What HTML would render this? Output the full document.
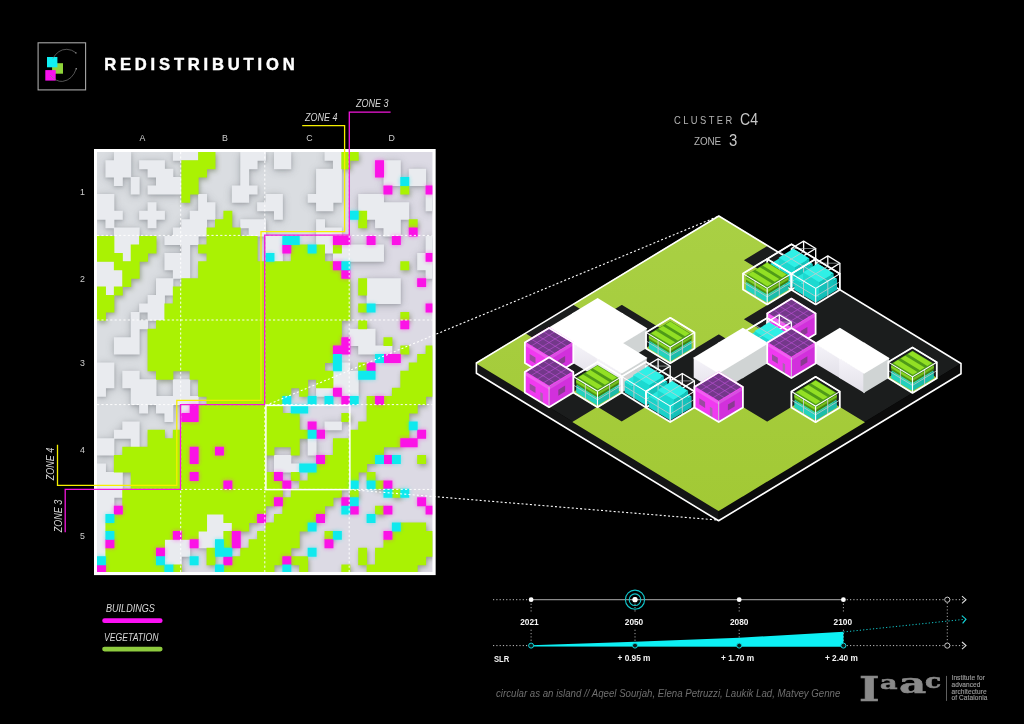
<!DOCTYPE html>
<html><head><meta charset="utf-8"><title>Redistribution</title>
<style>
html,body{margin:0;padding:0;background:#000;}
body{width:1024px;height:724px;position:relative;overflow:hidden;font-family:"Liberation Sans",sans-serif;color:#fff;}
.t{position:absolute;white-space:nowrap;line-height:1;}
.c{transform:translateX(-50%);}
.i{font-style:italic;}
</style></head><body>
<svg width="1024" height="724" viewBox="0 0 1024 724" style="position:absolute;left:0;top:0"><defs>
<filter id="sh" x="-5%" y="-5%" width="110%" height="110%"><feGaussianBlur stdDeviation="2.6"/></filter>
<filter id="sh3" x="-5%" y="-5%" width="110%" height="110%"><feGaussianBlur stdDeviation="4"/></filter>
<filter id="sh2" x="-5%" y="-5%" width="110%" height="110%"><feGaussianBlur stdDeviation="1.5"/></filter>
<filter id="gl" x="-5%" y="-5%" width="110%" height="110%"><feGaussianBlur stdDeviation="2.2"/></filter>
<clipPath id="mapclip"><rect x="97" y="152" width="335.4" height="419.9"/></clipPath>
<linearGradient id="gtop" x1="0" y1="0" x2="0" y2="1"><stop offset="0" stop-color="#a9d044"/><stop offset="1" stop-color="#a2c935"/></linearGradient>
<linearGradient id="wl" x1="0" y1="0" x2="0" y2="1"><stop offset="0" stop-color="#f6f4fa"/><stop offset="1" stop-color="#e2e0e8"/></linearGradient>
<linearGradient id="wr" x1="0" y1="0" x2="1" y2="0"><stop offset="0" stop-color="#b9bdbd"/><stop offset="1" stop-color="#d4d8d8"/></linearGradient>
</defs><rect x="94" y="149" width="341.65" height="426.1" fill="#ffffff"/><g clip-path="url(#mapclip)"><rect x="96.5" y="151.5" width="337" height="421" fill="#dadde1"/><path d="M349.3 151H434V573H96V489.4H180.5V404.6H264.7V235.2H349.3z" fill="#f0c8ff" opacity="0.13"/><path d="M198.12 151.80h17.35v8.93h-17.35zM341.35 151.80h17.35v8.93h-17.35zM181.27 160.23h34.20v8.93h-34.20zM341.35 160.23h8.93v8.93h-8.93zM181.27 168.65h25.78v8.93h-25.78zM181.27 177.08h17.35v8.93h-17.35zM181.27 185.50h17.35v8.93h-17.35zM400.32 185.50h8.93v8.93h-8.93zM181.27 193.93h8.93v8.93h-8.93zM223.40 210.78h8.93v8.93h-8.93zM358.19 210.78h8.93v8.93h-8.93zM214.97 219.20h17.35v8.93h-17.35zM358.19 219.20h8.93v8.93h-8.93zM408.75 219.20h8.93v8.93h-8.93zM206.55 227.62h34.20v8.93h-34.20zM97.02 236.05h17.35v8.93h-17.35zM139.14 236.05h17.35v8.93h-17.35zM206.55 236.05h51.05v8.93h-51.05zM97.02 244.48h17.35v8.93h-17.35zM130.72 244.48h25.78v8.93h-25.78zM198.12 244.48h59.48v8.93h-59.48zM290.80 244.48h17.35v8.93h-17.35zM316.07 244.48h8.93v8.93h-8.93zM332.92 244.48h8.93v8.93h-8.93zM97.02 252.90h25.78v8.93h-25.78zM130.72 252.90h17.35v8.93h-17.35zM206.55 252.90h51.05v8.93h-51.05zM290.80 252.90h34.20v8.93h-34.20zM113.87 261.33h25.78v8.93h-25.78zM198.12 261.33h135.30v8.93h-135.30zM400.32 261.33h8.93v8.93h-8.93zM122.30 269.75h17.35v8.93h-17.35zM198.12 269.75h143.73v8.93h-143.73zM122.30 278.18h8.93v8.93h-8.93zM181.27 278.18h169.00v8.93h-169.00zM358.19 278.18h8.93v8.93h-8.93zM97.02 286.60h8.93v8.93h-8.93zM113.87 286.60h8.93v8.93h-8.93zM172.84 286.60h177.43v8.93h-177.43zM358.19 286.60h8.93v8.93h-8.93zM97.02 295.03h17.35v8.93h-17.35zM172.84 295.03h177.43v8.93h-177.43zM97.02 303.45h17.35v8.93h-17.35zM164.42 303.45h185.85v8.93h-185.85zM358.19 303.45h8.93v8.93h-8.93zM97.02 311.88h8.93v8.93h-8.93zM164.42 311.88h185.85v8.93h-185.85zM400.32 311.88h8.93v8.93h-8.93zM156.00 320.30h185.85v8.93h-185.85zM358.19 320.30h8.93v8.93h-8.93zM147.57 328.73h194.28v8.93h-194.28zM147.57 337.15h194.28v8.93h-194.28zM383.47 337.15h8.93v8.93h-8.93zM147.57 345.58h185.85v8.93h-185.85zM400.32 345.58h8.93v8.93h-8.93zM425.60 345.58h8.93v8.93h-8.93zM147.57 354.00h185.85v8.93h-185.85zM417.17 354.00h17.35v8.93h-17.35zM147.57 362.43h177.43v8.93h-177.43zM358.19 362.43h8.93v8.93h-8.93zM408.75 362.43h25.78v8.93h-25.78zM156.00 370.85h17.35v8.93h-17.35zM189.69 370.85h143.73v8.93h-143.73zM400.32 370.85h34.20v8.93h-34.20zM198.12 379.28h110.03v8.93h-110.03zM316.07 379.28h17.35v8.93h-17.35zM400.32 379.28h34.20v8.93h-34.20zM198.12 387.70h93.18v8.93h-93.18zM299.22 387.70h8.93v8.93h-8.93zM391.89 387.70h42.62v8.93h-42.62zM206.55 396.12h76.33v8.93h-76.33zM366.62 396.12h8.93v8.93h-8.93zM383.47 396.12h42.62v8.93h-42.62zM198.12 404.55h84.75v8.93h-84.75zM366.62 404.55h51.05v8.93h-51.05zM198.12 412.98h101.60v8.93h-101.60zM341.35 412.98h8.93v8.93h-8.93zM366.62 412.98h42.62v8.93h-42.62zM181.27 421.40h118.45v8.93h-118.45zM358.19 421.40h51.05v8.93h-51.05zM147.57 429.83h17.35v8.93h-17.35zM172.84 429.83h135.30v8.93h-135.30zM349.77 429.83h59.48v8.93h-59.48zM147.57 438.25h152.15v8.93h-152.15zM332.92 438.25h67.90v8.93h-67.90zM122.30 446.68h67.90v8.93h-67.90zM198.12 446.68h17.35v8.93h-17.35zM223.40 446.68h51.05v8.93h-51.05zM290.80 446.68h8.93v8.93h-8.93zM332.92 446.68h51.05v8.93h-51.05zM113.87 455.10h76.33v8.93h-76.33zM198.12 455.10h67.90v8.93h-67.90zM324.50 455.10h51.05v8.93h-51.05zM417.17 455.10h8.93v8.93h-8.93zM113.87 463.53h152.15v8.93h-152.15zM316.07 463.53h51.05v8.93h-51.05zM130.72 471.95h59.48v8.93h-59.48zM198.12 471.95h76.33v8.93h-76.33zM290.80 471.95h8.93v8.93h-8.93zM307.65 471.95h51.05v8.93h-51.05zM366.62 471.95h8.93v8.93h-8.93zM130.72 480.38h93.18v8.93h-93.18zM231.82 480.38h51.05v8.93h-51.05zM299.22 480.38h51.05v8.93h-51.05zM375.05 480.38h8.93v8.93h-8.93zM122.30 488.80h160.58v8.93h-160.58zM290.80 488.80h51.05v8.93h-51.05zM349.77 488.80h8.93v8.93h-8.93zM391.89 488.80h8.93v8.93h-8.93zM122.30 497.23h152.15v8.93h-152.15zM282.37 497.23h51.05v8.93h-51.05zM122.30 505.65h143.73v8.93h-143.73zM282.37 505.65h42.62v8.93h-42.62zM375.05 505.65h8.93v8.93h-8.93zM113.87 514.08h93.18v8.93h-93.18zM223.40 514.08h34.20v8.93h-34.20zM273.94 514.08h42.62v8.93h-42.62zM105.44 522.50h101.60v8.93h-101.60zM231.82 522.50h17.35v8.93h-17.35zM265.52 522.50h42.62v8.93h-42.62zM400.32 522.50h25.78v8.93h-25.78zM113.87 530.93h59.48v8.93h-59.48zM181.27 530.93h17.35v8.93h-17.35zM223.40 530.93h8.93v8.93h-8.93zM257.10 530.93h42.62v8.93h-42.62zM324.50 530.93h8.93v8.93h-8.93zM391.89 530.93h42.62v8.93h-42.62zM113.87 539.35h51.05v8.93h-51.05zM223.40 539.35h8.93v8.93h-8.93zM248.67 539.35h51.05v8.93h-51.05zM383.47 539.35h51.05v8.93h-51.05zM105.44 547.78h51.05v8.93h-51.05zM206.55 547.78h8.93v8.93h-8.93zM240.25 547.78h51.05v8.93h-51.05zM358.19 547.78h8.93v8.93h-8.93zM375.05 547.78h59.48v8.93h-59.48zM105.44 556.20h51.05v8.93h-51.05zM206.55 556.20h8.93v8.93h-8.93zM231.82 556.20h51.05v8.93h-51.05zM290.80 556.20h17.35v8.93h-17.35zM358.19 556.20h8.93v8.93h-8.93zM375.05 556.20h51.05v8.93h-51.05zM105.44 564.62h59.48v8.93h-59.48zM172.84 564.62h8.93v8.93h-8.93zM223.40 564.62h51.05v8.93h-51.05zM299.22 564.62h8.93v8.93h-8.93zM341.35 564.62h8.93v8.93h-8.93zM366.62 564.62h51.05v8.93h-51.05z" fill="#56663a" opacity="0.5" filter="url(#sh)" transform="translate(1.2,2.2)"/><path d="M113.87 151.80h17.35v8.93h-17.35zM172.84 151.80h25.78v8.93h-25.78zM240.25 151.80h25.78v8.93h-25.78zM273.94 151.80h17.35v8.93h-17.35zM324.50 151.80h17.35v8.93h-17.35zM105.44 160.23h25.78v8.93h-25.78zM139.14 160.23h25.78v8.93h-25.78zM240.25 160.23h17.35v8.93h-17.35zM273.94 160.23h17.35v8.93h-17.35zM332.92 160.23h8.93v8.93h-8.93zM383.47 160.23h17.35v8.93h-17.35zM105.44 168.65h25.78v8.93h-25.78zM147.57 168.65h25.78v8.93h-25.78zM240.25 168.65h8.93v8.93h-8.93zM316.07 168.65h25.78v8.93h-25.78zM383.47 168.65h17.35v8.93h-17.35zM408.75 168.65h17.35v8.93h-17.35zM113.87 177.08h8.93v8.93h-8.93zM130.72 177.08h8.93v8.93h-8.93zM156.00 177.08h25.78v8.93h-25.78zM240.25 177.08h8.93v8.93h-8.93zM316.07 177.08h25.78v8.93h-25.78zM383.47 177.08h17.35v8.93h-17.35zM408.75 177.08h17.35v8.93h-17.35zM130.72 185.50h8.93v8.93h-8.93zM147.57 185.50h34.20v8.93h-34.20zM231.82 185.50h25.78v8.93h-25.78zM316.07 185.50h25.78v8.93h-25.78zM97.02 193.93h17.35v8.93h-17.35zM198.12 193.93h8.93v8.93h-8.93zM231.82 193.93h17.35v8.93h-17.35zM265.52 193.93h17.35v8.93h-17.35zM307.65 193.93h34.20v8.93h-34.20zM358.19 193.93h25.78v8.93h-25.78zM425.60 193.93h8.93v8.93h-8.93zM97.02 202.35h17.35v8.93h-17.35zM147.57 202.35h8.93v8.93h-8.93zM198.12 202.35h17.35v8.93h-17.35zM257.10 202.35h25.78v8.93h-25.78zM316.07 202.35h17.35v8.93h-17.35zM358.19 202.35h51.05v8.93h-51.05zM425.60 202.35h8.93v8.93h-8.93zM97.02 210.78h25.78v8.93h-25.78zM139.14 210.78h25.78v8.93h-25.78zM189.69 210.78h25.78v8.93h-25.78zM273.94 210.78h8.93v8.93h-8.93zM366.62 210.78h42.62v8.93h-42.62zM105.44 219.20h8.93v8.93h-8.93zM147.57 219.20h8.93v8.93h-8.93zM181.27 219.20h25.78v8.93h-25.78zM240.25 219.20h25.78v8.93h-25.78zM316.07 219.20h8.93v8.93h-8.93zM375.05 219.20h25.78v8.93h-25.78zM113.87 227.62h25.78v8.93h-25.78zM172.84 227.62h34.20v8.93h-34.20zM248.67 227.62h17.35v8.93h-17.35zM316.07 227.62h25.78v8.93h-25.78zM383.47 227.62h17.35v8.93h-17.35zM113.87 236.05h25.78v8.93h-25.78zM164.42 236.05h34.20v8.93h-34.20zM265.52 236.05h17.35v8.93h-17.35zM316.07 236.05h17.35v8.93h-17.35zM425.60 236.05h8.93v8.93h-8.93zM113.87 244.48h17.35v8.93h-17.35zM181.27 244.48h8.93v8.93h-8.93zM265.52 244.48h17.35v8.93h-17.35zM324.50 244.48h8.93v8.93h-8.93zM341.35 244.48h42.62v8.93h-42.62zM425.60 244.48h8.93v8.93h-8.93zM122.30 252.90h8.93v8.93h-8.93zM164.42 252.90h25.78v8.93h-25.78zM273.94 252.90h8.93v8.93h-8.93zM332.92 252.90h51.05v8.93h-51.05zM417.17 252.90h8.93v8.93h-8.93zM97.02 261.33h17.35v8.93h-17.35zM164.42 261.33h25.78v8.93h-25.78zM417.17 261.33h17.35v8.93h-17.35zM97.02 269.75h25.78v8.93h-25.78zM172.84 269.75h17.35v8.93h-17.35zM425.60 269.75h8.93v8.93h-8.93zM97.02 278.18h25.78v8.93h-25.78zM156.00 278.18h17.35v8.93h-17.35zM366.62 278.18h34.20v8.93h-34.20zM105.44 286.60h8.93v8.93h-8.93zM156.00 286.60h17.35v8.93h-17.35zM366.62 286.60h34.20v8.93h-34.20zM147.57 295.03h17.35v8.93h-17.35zM366.62 295.03h34.20v8.93h-34.20zM139.14 303.45h25.78v8.93h-25.78zM130.72 311.88h8.93v8.93h-8.93zM147.57 311.88h17.35v8.93h-17.35zM130.72 320.30h17.35v8.93h-17.35zM130.72 328.73h8.93v8.93h-8.93zM349.77 328.73h25.78v8.93h-25.78zM113.87 337.15h25.78v8.93h-25.78zM349.77 337.15h25.78v8.93h-25.78zM113.87 345.58h25.78v8.93h-25.78zM358.19 345.58h34.20v8.93h-34.20zM97.02 362.43h17.35v8.93h-17.35zM341.35 362.43h8.93v8.93h-8.93zM97.02 370.85h17.35v8.93h-17.35zM122.30 370.85h17.35v8.93h-17.35zM332.92 370.85h25.78v8.93h-25.78zM97.02 379.28h17.35v8.93h-17.35zM122.30 379.28h34.20v8.93h-34.20zM172.84 379.28h17.35v8.93h-17.35zM332.92 379.28h25.78v8.93h-25.78zM97.02 387.70h8.93v8.93h-8.93zM130.72 387.70h25.78v8.93h-25.78zM172.84 387.70h17.35v8.93h-17.35zM316.07 387.70h17.35v8.93h-17.35zM341.35 387.70h17.35v8.93h-17.35zM130.72 396.12h67.90v8.93h-67.90zM139.14 404.55h8.93v8.93h-8.93zM156.00 404.55h17.35v8.93h-17.35zM181.27 404.55h8.93v8.93h-8.93zM164.42 412.98h8.93v8.93h-8.93zM122.30 421.40h17.35v8.93h-17.35zM324.50 421.40h17.35v8.93h-17.35zM113.87 429.83h25.78v8.93h-25.78zM97.02 438.25h17.35v8.93h-17.35zM130.72 438.25h8.93v8.93h-8.93zM307.65 438.25h8.93v8.93h-8.93zM97.02 446.68h17.35v8.93h-17.35zM307.65 446.68h8.93v8.93h-8.93zM273.94 455.10h17.35v8.93h-17.35zM97.02 463.53h8.93v8.93h-8.93zM273.94 463.53h25.78v8.93h-25.78zM97.02 471.95h25.78v8.93h-25.78zM97.02 480.38h25.78v8.93h-25.78zM97.02 488.80h25.78v8.93h-25.78zM97.02 497.23h17.35v8.93h-17.35zM97.02 505.65h17.35v8.93h-17.35zM97.02 514.08h8.93v8.93h-8.93zM206.55 514.08h17.35v8.93h-17.35zM97.02 522.50h8.93v8.93h-8.93zM206.55 522.50h25.78v8.93h-25.78zM97.02 530.93h8.93v8.93h-8.93zM198.12 530.93h25.78v8.93h-25.78zM97.02 539.35h8.93v8.93h-8.93zM164.42 539.35h25.78v8.93h-25.78zM198.12 539.35h17.35v8.93h-17.35zM97.02 547.78h8.93v8.93h-8.93zM164.42 547.78h25.78v8.93h-25.78zM164.42 556.20h17.35v8.93h-17.35z" fill="#6d7278" opacity="0.42" filter="url(#sh3)" transform="translate(0,1.6)"/><path d="M113.87 151.80h17.35v8.93h-17.35zM172.84 151.80h25.78v8.93h-25.78zM240.25 151.80h25.78v8.93h-25.78zM273.94 151.80h17.35v8.93h-17.35zM324.50 151.80h17.35v8.93h-17.35zM105.44 160.23h25.78v8.93h-25.78zM139.14 160.23h25.78v8.93h-25.78zM240.25 160.23h17.35v8.93h-17.35zM273.94 160.23h17.35v8.93h-17.35zM332.92 160.23h8.93v8.93h-8.93zM383.47 160.23h17.35v8.93h-17.35zM105.44 168.65h25.78v8.93h-25.78zM147.57 168.65h25.78v8.93h-25.78zM240.25 168.65h8.93v8.93h-8.93zM316.07 168.65h25.78v8.93h-25.78zM383.47 168.65h17.35v8.93h-17.35zM408.75 168.65h17.35v8.93h-17.35zM113.87 177.08h8.93v8.93h-8.93zM130.72 177.08h8.93v8.93h-8.93zM156.00 177.08h25.78v8.93h-25.78zM240.25 177.08h8.93v8.93h-8.93zM316.07 177.08h25.78v8.93h-25.78zM383.47 177.08h17.35v8.93h-17.35zM408.75 177.08h17.35v8.93h-17.35zM130.72 185.50h8.93v8.93h-8.93zM147.57 185.50h34.20v8.93h-34.20zM231.82 185.50h25.78v8.93h-25.78zM316.07 185.50h25.78v8.93h-25.78zM97.02 193.93h17.35v8.93h-17.35zM198.12 193.93h8.93v8.93h-8.93zM231.82 193.93h17.35v8.93h-17.35zM265.52 193.93h17.35v8.93h-17.35zM307.65 193.93h34.20v8.93h-34.20zM358.19 193.93h25.78v8.93h-25.78zM425.60 193.93h8.93v8.93h-8.93zM97.02 202.35h17.35v8.93h-17.35zM147.57 202.35h8.93v8.93h-8.93zM198.12 202.35h17.35v8.93h-17.35zM257.10 202.35h25.78v8.93h-25.78zM316.07 202.35h17.35v8.93h-17.35zM358.19 202.35h51.05v8.93h-51.05zM425.60 202.35h8.93v8.93h-8.93zM97.02 210.78h25.78v8.93h-25.78zM139.14 210.78h25.78v8.93h-25.78zM189.69 210.78h25.78v8.93h-25.78zM273.94 210.78h8.93v8.93h-8.93zM366.62 210.78h42.62v8.93h-42.62zM105.44 219.20h8.93v8.93h-8.93zM147.57 219.20h8.93v8.93h-8.93zM181.27 219.20h25.78v8.93h-25.78zM240.25 219.20h25.78v8.93h-25.78zM316.07 219.20h8.93v8.93h-8.93zM375.05 219.20h25.78v8.93h-25.78zM113.87 227.62h25.78v8.93h-25.78zM172.84 227.62h34.20v8.93h-34.20zM248.67 227.62h17.35v8.93h-17.35zM316.07 227.62h25.78v8.93h-25.78zM383.47 227.62h17.35v8.93h-17.35zM113.87 236.05h25.78v8.93h-25.78zM164.42 236.05h34.20v8.93h-34.20zM265.52 236.05h17.35v8.93h-17.35zM316.07 236.05h17.35v8.93h-17.35zM425.60 236.05h8.93v8.93h-8.93zM113.87 244.48h17.35v8.93h-17.35zM181.27 244.48h8.93v8.93h-8.93zM265.52 244.48h17.35v8.93h-17.35zM324.50 244.48h8.93v8.93h-8.93zM341.35 244.48h42.62v8.93h-42.62zM425.60 244.48h8.93v8.93h-8.93zM122.30 252.90h8.93v8.93h-8.93zM164.42 252.90h25.78v8.93h-25.78zM273.94 252.90h8.93v8.93h-8.93zM332.92 252.90h51.05v8.93h-51.05zM417.17 252.90h8.93v8.93h-8.93zM97.02 261.33h17.35v8.93h-17.35zM164.42 261.33h25.78v8.93h-25.78zM417.17 261.33h17.35v8.93h-17.35zM97.02 269.75h25.78v8.93h-25.78zM172.84 269.75h17.35v8.93h-17.35zM425.60 269.75h8.93v8.93h-8.93zM97.02 278.18h25.78v8.93h-25.78zM156.00 278.18h17.35v8.93h-17.35zM366.62 278.18h34.20v8.93h-34.20zM105.44 286.60h8.93v8.93h-8.93zM156.00 286.60h17.35v8.93h-17.35zM366.62 286.60h34.20v8.93h-34.20zM147.57 295.03h17.35v8.93h-17.35zM366.62 295.03h34.20v8.93h-34.20zM139.14 303.45h25.78v8.93h-25.78zM130.72 311.88h8.93v8.93h-8.93zM147.57 311.88h17.35v8.93h-17.35zM130.72 320.30h17.35v8.93h-17.35zM130.72 328.73h8.93v8.93h-8.93zM349.77 328.73h25.78v8.93h-25.78zM113.87 337.15h25.78v8.93h-25.78zM349.77 337.15h25.78v8.93h-25.78zM113.87 345.58h25.78v8.93h-25.78zM358.19 345.58h34.20v8.93h-34.20zM97.02 362.43h17.35v8.93h-17.35zM341.35 362.43h8.93v8.93h-8.93zM97.02 370.85h17.35v8.93h-17.35zM122.30 370.85h17.35v8.93h-17.35zM332.92 370.85h25.78v8.93h-25.78zM97.02 379.28h17.35v8.93h-17.35zM122.30 379.28h34.20v8.93h-34.20zM172.84 379.28h17.35v8.93h-17.35zM332.92 379.28h25.78v8.93h-25.78zM97.02 387.70h8.93v8.93h-8.93zM130.72 387.70h25.78v8.93h-25.78zM172.84 387.70h17.35v8.93h-17.35zM316.07 387.70h17.35v8.93h-17.35zM341.35 387.70h17.35v8.93h-17.35zM130.72 396.12h67.90v8.93h-67.90zM139.14 404.55h8.93v8.93h-8.93zM156.00 404.55h17.35v8.93h-17.35zM181.27 404.55h8.93v8.93h-8.93zM164.42 412.98h8.93v8.93h-8.93zM122.30 421.40h17.35v8.93h-17.35zM324.50 421.40h17.35v8.93h-17.35zM113.87 429.83h25.78v8.93h-25.78zM97.02 438.25h17.35v8.93h-17.35zM130.72 438.25h8.93v8.93h-8.93zM307.65 438.25h8.93v8.93h-8.93zM97.02 446.68h17.35v8.93h-17.35zM307.65 446.68h8.93v8.93h-8.93zM273.94 455.10h17.35v8.93h-17.35zM97.02 463.53h8.93v8.93h-8.93zM273.94 463.53h25.78v8.93h-25.78zM97.02 471.95h25.78v8.93h-25.78zM97.02 480.38h25.78v8.93h-25.78zM97.02 488.80h25.78v8.93h-25.78zM97.02 497.23h17.35v8.93h-17.35zM97.02 505.65h17.35v8.93h-17.35zM97.02 514.08h8.93v8.93h-8.93zM206.55 514.08h17.35v8.93h-17.35zM97.02 522.50h8.93v8.93h-8.93zM206.55 522.50h25.78v8.93h-25.78zM97.02 530.93h8.93v8.93h-8.93zM198.12 530.93h25.78v8.93h-25.78zM97.02 539.35h8.93v8.93h-8.93zM164.42 539.35h25.78v8.93h-25.78zM198.12 539.35h17.35v8.93h-17.35zM97.02 547.78h8.93v8.93h-8.93zM164.42 547.78h25.78v8.93h-25.78zM164.42 556.20h17.35v8.93h-17.35z" fill="#6d7278" opacity="0.3" filter="url(#sh2)" transform="translate(0.3,1.2)"/><path d="M113.87 151.80h17.35v8.93h-17.35zM172.84 151.80h25.78v8.93h-25.78zM240.25 151.80h25.78v8.93h-25.78zM273.94 151.80h17.35v8.93h-17.35zM324.50 151.80h17.35v8.93h-17.35zM105.44 160.23h25.78v8.93h-25.78zM139.14 160.23h25.78v8.93h-25.78zM240.25 160.23h17.35v8.93h-17.35zM273.94 160.23h17.35v8.93h-17.35zM332.92 160.23h8.93v8.93h-8.93zM383.47 160.23h17.35v8.93h-17.35zM105.44 168.65h25.78v8.93h-25.78zM147.57 168.65h25.78v8.93h-25.78zM240.25 168.65h8.93v8.93h-8.93zM316.07 168.65h25.78v8.93h-25.78zM383.47 168.65h17.35v8.93h-17.35zM408.75 168.65h17.35v8.93h-17.35zM113.87 177.08h8.93v8.93h-8.93zM130.72 177.08h8.93v8.93h-8.93zM156.00 177.08h25.78v8.93h-25.78zM240.25 177.08h8.93v8.93h-8.93zM316.07 177.08h25.78v8.93h-25.78zM383.47 177.08h17.35v8.93h-17.35zM408.75 177.08h17.35v8.93h-17.35zM130.72 185.50h8.93v8.93h-8.93zM147.57 185.50h34.20v8.93h-34.20zM231.82 185.50h25.78v8.93h-25.78zM316.07 185.50h25.78v8.93h-25.78zM97.02 193.93h17.35v8.93h-17.35zM198.12 193.93h8.93v8.93h-8.93zM231.82 193.93h17.35v8.93h-17.35zM265.52 193.93h17.35v8.93h-17.35zM307.65 193.93h34.20v8.93h-34.20zM358.19 193.93h25.78v8.93h-25.78zM425.60 193.93h8.93v8.93h-8.93zM97.02 202.35h17.35v8.93h-17.35zM147.57 202.35h8.93v8.93h-8.93zM198.12 202.35h17.35v8.93h-17.35zM257.10 202.35h25.78v8.93h-25.78zM316.07 202.35h17.35v8.93h-17.35zM358.19 202.35h51.05v8.93h-51.05zM425.60 202.35h8.93v8.93h-8.93zM97.02 210.78h25.78v8.93h-25.78zM139.14 210.78h25.78v8.93h-25.78zM189.69 210.78h25.78v8.93h-25.78zM273.94 210.78h8.93v8.93h-8.93zM366.62 210.78h42.62v8.93h-42.62zM105.44 219.20h8.93v8.93h-8.93zM147.57 219.20h8.93v8.93h-8.93zM181.27 219.20h25.78v8.93h-25.78zM240.25 219.20h25.78v8.93h-25.78zM316.07 219.20h8.93v8.93h-8.93zM375.05 219.20h25.78v8.93h-25.78zM113.87 227.62h25.78v8.93h-25.78zM172.84 227.62h34.20v8.93h-34.20zM248.67 227.62h17.35v8.93h-17.35zM316.07 227.62h25.78v8.93h-25.78zM383.47 227.62h17.35v8.93h-17.35zM113.87 236.05h25.78v8.93h-25.78zM164.42 236.05h34.20v8.93h-34.20zM265.52 236.05h17.35v8.93h-17.35zM316.07 236.05h17.35v8.93h-17.35zM425.60 236.05h8.93v8.93h-8.93zM113.87 244.48h17.35v8.93h-17.35zM181.27 244.48h8.93v8.93h-8.93zM265.52 244.48h17.35v8.93h-17.35zM324.50 244.48h8.93v8.93h-8.93zM341.35 244.48h42.62v8.93h-42.62zM425.60 244.48h8.93v8.93h-8.93zM122.30 252.90h8.93v8.93h-8.93zM164.42 252.90h25.78v8.93h-25.78zM273.94 252.90h8.93v8.93h-8.93zM332.92 252.90h51.05v8.93h-51.05zM417.17 252.90h8.93v8.93h-8.93zM97.02 261.33h17.35v8.93h-17.35zM164.42 261.33h25.78v8.93h-25.78zM417.17 261.33h17.35v8.93h-17.35zM97.02 269.75h25.78v8.93h-25.78zM172.84 269.75h17.35v8.93h-17.35zM425.60 269.75h8.93v8.93h-8.93zM97.02 278.18h25.78v8.93h-25.78zM156.00 278.18h17.35v8.93h-17.35zM366.62 278.18h34.20v8.93h-34.20zM105.44 286.60h8.93v8.93h-8.93zM156.00 286.60h17.35v8.93h-17.35zM366.62 286.60h34.20v8.93h-34.20zM147.57 295.03h17.35v8.93h-17.35zM366.62 295.03h34.20v8.93h-34.20zM139.14 303.45h25.78v8.93h-25.78zM130.72 311.88h8.93v8.93h-8.93zM147.57 311.88h17.35v8.93h-17.35zM130.72 320.30h17.35v8.93h-17.35zM130.72 328.73h8.93v8.93h-8.93zM349.77 328.73h25.78v8.93h-25.78zM113.87 337.15h25.78v8.93h-25.78zM349.77 337.15h25.78v8.93h-25.78zM113.87 345.58h25.78v8.93h-25.78zM358.19 345.58h34.20v8.93h-34.20zM97.02 362.43h17.35v8.93h-17.35zM341.35 362.43h8.93v8.93h-8.93zM97.02 370.85h17.35v8.93h-17.35zM122.30 370.85h17.35v8.93h-17.35zM332.92 370.85h25.78v8.93h-25.78zM97.02 379.28h17.35v8.93h-17.35zM122.30 379.28h34.20v8.93h-34.20zM172.84 379.28h17.35v8.93h-17.35zM332.92 379.28h25.78v8.93h-25.78zM97.02 387.70h8.93v8.93h-8.93zM130.72 387.70h25.78v8.93h-25.78zM172.84 387.70h17.35v8.93h-17.35zM316.07 387.70h17.35v8.93h-17.35zM341.35 387.70h17.35v8.93h-17.35zM130.72 396.12h67.90v8.93h-67.90zM139.14 404.55h8.93v8.93h-8.93zM156.00 404.55h17.35v8.93h-17.35zM181.27 404.55h8.93v8.93h-8.93zM164.42 412.98h8.93v8.93h-8.93zM122.30 421.40h17.35v8.93h-17.35zM324.50 421.40h17.35v8.93h-17.35zM113.87 429.83h25.78v8.93h-25.78zM97.02 438.25h17.35v8.93h-17.35zM130.72 438.25h8.93v8.93h-8.93zM307.65 438.25h8.93v8.93h-8.93zM97.02 446.68h17.35v8.93h-17.35zM307.65 446.68h8.93v8.93h-8.93zM273.94 455.10h17.35v8.93h-17.35zM97.02 463.53h8.93v8.93h-8.93zM273.94 463.53h25.78v8.93h-25.78zM97.02 471.95h25.78v8.93h-25.78zM97.02 480.38h25.78v8.93h-25.78zM97.02 488.80h25.78v8.93h-25.78zM97.02 497.23h17.35v8.93h-17.35zM97.02 505.65h17.35v8.93h-17.35zM97.02 514.08h8.93v8.93h-8.93zM206.55 514.08h17.35v8.93h-17.35zM97.02 522.50h8.93v8.93h-8.93zM206.55 522.50h25.78v8.93h-25.78zM97.02 530.93h8.93v8.93h-8.93zM198.12 530.93h25.78v8.93h-25.78zM97.02 539.35h8.93v8.93h-8.93zM164.42 539.35h25.78v8.93h-25.78zM198.12 539.35h17.35v8.93h-17.35zM97.02 547.78h8.93v8.93h-8.93zM164.42 547.78h25.78v8.93h-25.78zM164.42 556.20h17.35v8.93h-17.35z" fill="#e9ebef"/><path d="M198.12 151.80h17.35v8.93h-17.35zM341.35 151.80h17.35v8.93h-17.35zM181.27 160.23h34.20v8.93h-34.20zM341.35 160.23h8.93v8.93h-8.93zM181.27 168.65h25.78v8.93h-25.78zM181.27 177.08h17.35v8.93h-17.35zM181.27 185.50h17.35v8.93h-17.35zM400.32 185.50h8.93v8.93h-8.93zM181.27 193.93h8.93v8.93h-8.93zM223.40 210.78h8.93v8.93h-8.93zM358.19 210.78h8.93v8.93h-8.93zM214.97 219.20h17.35v8.93h-17.35zM358.19 219.20h8.93v8.93h-8.93zM408.75 219.20h8.93v8.93h-8.93zM206.55 227.62h34.20v8.93h-34.20zM97.02 236.05h17.35v8.93h-17.35zM139.14 236.05h17.35v8.93h-17.35zM206.55 236.05h51.05v8.93h-51.05zM97.02 244.48h17.35v8.93h-17.35zM130.72 244.48h25.78v8.93h-25.78zM198.12 244.48h59.48v8.93h-59.48zM290.80 244.48h17.35v8.93h-17.35zM316.07 244.48h8.93v8.93h-8.93zM332.92 244.48h8.93v8.93h-8.93zM97.02 252.90h25.78v8.93h-25.78zM130.72 252.90h17.35v8.93h-17.35zM206.55 252.90h51.05v8.93h-51.05zM290.80 252.90h34.20v8.93h-34.20zM113.87 261.33h25.78v8.93h-25.78zM198.12 261.33h135.30v8.93h-135.30zM400.32 261.33h8.93v8.93h-8.93zM122.30 269.75h17.35v8.93h-17.35zM198.12 269.75h143.73v8.93h-143.73zM122.30 278.18h8.93v8.93h-8.93zM181.27 278.18h169.00v8.93h-169.00zM358.19 278.18h8.93v8.93h-8.93zM97.02 286.60h8.93v8.93h-8.93zM113.87 286.60h8.93v8.93h-8.93zM172.84 286.60h177.43v8.93h-177.43zM358.19 286.60h8.93v8.93h-8.93zM97.02 295.03h17.35v8.93h-17.35zM172.84 295.03h177.43v8.93h-177.43zM97.02 303.45h17.35v8.93h-17.35zM164.42 303.45h185.85v8.93h-185.85zM358.19 303.45h8.93v8.93h-8.93zM97.02 311.88h8.93v8.93h-8.93zM164.42 311.88h185.85v8.93h-185.85zM400.32 311.88h8.93v8.93h-8.93zM156.00 320.30h185.85v8.93h-185.85zM358.19 320.30h8.93v8.93h-8.93zM147.57 328.73h194.28v8.93h-194.28zM147.57 337.15h194.28v8.93h-194.28zM383.47 337.15h8.93v8.93h-8.93zM147.57 345.58h185.85v8.93h-185.85zM400.32 345.58h8.93v8.93h-8.93zM425.60 345.58h8.93v8.93h-8.93zM147.57 354.00h185.85v8.93h-185.85zM417.17 354.00h17.35v8.93h-17.35zM147.57 362.43h177.43v8.93h-177.43zM358.19 362.43h8.93v8.93h-8.93zM408.75 362.43h25.78v8.93h-25.78zM156.00 370.85h17.35v8.93h-17.35zM189.69 370.85h143.73v8.93h-143.73zM400.32 370.85h34.20v8.93h-34.20zM198.12 379.28h110.03v8.93h-110.03zM316.07 379.28h17.35v8.93h-17.35zM400.32 379.28h34.20v8.93h-34.20zM198.12 387.70h93.18v8.93h-93.18zM299.22 387.70h8.93v8.93h-8.93zM391.89 387.70h42.62v8.93h-42.62zM206.55 396.12h76.33v8.93h-76.33zM366.62 396.12h8.93v8.93h-8.93zM383.47 396.12h42.62v8.93h-42.62zM198.12 404.55h84.75v8.93h-84.75zM366.62 404.55h51.05v8.93h-51.05zM198.12 412.98h101.60v8.93h-101.60zM341.35 412.98h8.93v8.93h-8.93zM366.62 412.98h42.62v8.93h-42.62zM181.27 421.40h118.45v8.93h-118.45zM358.19 421.40h51.05v8.93h-51.05zM147.57 429.83h17.35v8.93h-17.35zM172.84 429.83h135.30v8.93h-135.30zM349.77 429.83h59.48v8.93h-59.48zM147.57 438.25h152.15v8.93h-152.15zM332.92 438.25h67.90v8.93h-67.90zM122.30 446.68h67.90v8.93h-67.90zM198.12 446.68h17.35v8.93h-17.35zM223.40 446.68h51.05v8.93h-51.05zM290.80 446.68h8.93v8.93h-8.93zM332.92 446.68h51.05v8.93h-51.05zM113.87 455.10h76.33v8.93h-76.33zM198.12 455.10h67.90v8.93h-67.90zM324.50 455.10h51.05v8.93h-51.05zM417.17 455.10h8.93v8.93h-8.93zM113.87 463.53h152.15v8.93h-152.15zM316.07 463.53h51.05v8.93h-51.05zM130.72 471.95h59.48v8.93h-59.48zM198.12 471.95h76.33v8.93h-76.33zM290.80 471.95h8.93v8.93h-8.93zM307.65 471.95h51.05v8.93h-51.05zM366.62 471.95h8.93v8.93h-8.93zM130.72 480.38h93.18v8.93h-93.18zM231.82 480.38h51.05v8.93h-51.05zM299.22 480.38h51.05v8.93h-51.05zM375.05 480.38h8.93v8.93h-8.93zM122.30 488.80h160.58v8.93h-160.58zM290.80 488.80h51.05v8.93h-51.05zM349.77 488.80h8.93v8.93h-8.93zM391.89 488.80h8.93v8.93h-8.93zM122.30 497.23h152.15v8.93h-152.15zM282.37 497.23h51.05v8.93h-51.05zM122.30 505.65h143.73v8.93h-143.73zM282.37 505.65h42.62v8.93h-42.62zM375.05 505.65h8.93v8.93h-8.93zM113.87 514.08h93.18v8.93h-93.18zM223.40 514.08h34.20v8.93h-34.20zM273.94 514.08h42.62v8.93h-42.62zM105.44 522.50h101.60v8.93h-101.60zM231.82 522.50h17.35v8.93h-17.35zM265.52 522.50h42.62v8.93h-42.62zM400.32 522.50h25.78v8.93h-25.78zM113.87 530.93h59.48v8.93h-59.48zM181.27 530.93h17.35v8.93h-17.35zM223.40 530.93h8.93v8.93h-8.93zM257.10 530.93h42.62v8.93h-42.62zM324.50 530.93h8.93v8.93h-8.93zM391.89 530.93h42.62v8.93h-42.62zM113.87 539.35h51.05v8.93h-51.05zM223.40 539.35h8.93v8.93h-8.93zM248.67 539.35h51.05v8.93h-51.05zM383.47 539.35h51.05v8.93h-51.05zM105.44 547.78h51.05v8.93h-51.05zM206.55 547.78h8.93v8.93h-8.93zM240.25 547.78h51.05v8.93h-51.05zM358.19 547.78h8.93v8.93h-8.93zM375.05 547.78h59.48v8.93h-59.48zM105.44 556.20h51.05v8.93h-51.05zM206.55 556.20h8.93v8.93h-8.93zM231.82 556.20h51.05v8.93h-51.05zM290.80 556.20h17.35v8.93h-17.35zM358.19 556.20h8.93v8.93h-8.93zM375.05 556.20h51.05v8.93h-51.05zM105.44 564.62h59.48v8.93h-59.48zM172.84 564.62h8.93v8.93h-8.93zM223.40 564.62h51.05v8.93h-51.05zM299.22 564.62h8.93v8.93h-8.93zM341.35 564.62h8.93v8.93h-8.93zM366.62 564.62h51.05v8.93h-51.05z" fill="#aaf203"/><path d="M375.05 160.23h8.93v8.93h-8.93zM375.05 168.65h8.93v8.93h-8.93zM383.47 185.50h8.93v8.93h-8.93zM425.60 185.50h8.93v8.93h-8.93zM408.75 227.62h8.93v8.93h-8.93zM332.92 236.05h17.35v8.93h-17.35zM366.62 236.05h8.93v8.93h-8.93zM391.89 236.05h8.93v8.93h-8.93zM282.37 244.48h8.93v8.93h-8.93zM425.60 252.90h8.93v8.93h-8.93zM332.92 261.33h8.93v8.93h-8.93zM341.35 269.75h8.93v8.93h-8.93zM417.17 278.18h8.93v8.93h-8.93zM425.60 303.45h8.93v8.93h-8.93zM400.32 320.30h8.93v8.93h-8.93zM341.35 337.15h8.93v8.93h-8.93zM332.92 345.58h17.35v8.93h-17.35zM383.47 354.00h17.35v8.93h-17.35zM366.62 362.43h8.93v8.93h-8.93zM332.92 387.70h8.93v8.93h-8.93zM341.35 396.12h8.93v8.93h-8.93zM375.05 396.12h8.93v8.93h-8.93zM189.69 404.55h8.93v8.93h-8.93zM181.27 412.98h17.35v8.93h-17.35zM307.65 421.40h8.93v8.93h-8.93zM316.07 429.83h8.93v8.93h-8.93zM417.17 429.83h8.93v8.93h-8.93zM400.32 438.25h17.35v8.93h-17.35zM189.69 446.68h8.93v8.93h-8.93zM214.97 446.68h8.93v8.93h-8.93zM189.69 455.10h8.93v8.93h-8.93zM316.07 455.10h8.93v8.93h-8.93zM383.47 455.10h8.93v8.93h-8.93zM189.69 471.95h8.93v8.93h-8.93zM273.94 471.95h8.93v8.93h-8.93zM223.40 480.38h8.93v8.93h-8.93zM282.37 480.38h8.93v8.93h-8.93zM383.47 480.38h8.93v8.93h-8.93zM273.94 497.23h8.93v8.93h-8.93zM341.35 497.23h8.93v8.93h-8.93zM417.17 497.23h8.93v8.93h-8.93zM113.87 505.65h8.93v8.93h-8.93zM349.77 505.65h8.93v8.93h-8.93zM383.47 505.65h8.93v8.93h-8.93zM425.60 505.65h8.93v8.93h-8.93zM257.10 514.08h8.93v8.93h-8.93zM316.07 514.08h8.93v8.93h-8.93zM172.84 530.93h8.93v8.93h-8.93zM231.82 530.93h8.93v8.93h-8.93zM383.47 530.93h8.93v8.93h-8.93zM105.44 539.35h8.93v8.93h-8.93zM189.69 539.35h8.93v8.93h-8.93zM231.82 539.35h8.93v8.93h-8.93zM324.50 539.35h8.93v8.93h-8.93zM156.00 547.78h8.93v8.93h-8.93zM223.40 556.20h8.93v8.93h-8.93zM282.37 556.20h8.93v8.93h-8.93zM97.02 564.62h8.93v8.93h-8.93z" fill="#ff20e8" opacity="0.55" filter="url(#gl)"/><path d="M400.32 177.08h8.93v8.93h-8.93zM349.77 210.78h8.93v8.93h-8.93zM282.37 236.05h17.35v8.93h-17.35zM307.65 244.48h8.93v8.93h-8.93zM265.52 252.90h8.93v8.93h-8.93zM341.35 261.33h8.93v8.93h-8.93zM366.62 303.45h8.93v8.93h-8.93zM332.92 354.00h8.93v8.93h-8.93zM375.05 354.00h8.93v8.93h-8.93zM332.92 362.43h8.93v8.93h-8.93zM358.19 370.85h17.35v8.93h-17.35zM282.37 396.12h8.93v8.93h-8.93zM307.65 396.12h8.93v8.93h-8.93zM324.50 396.12h8.93v8.93h-8.93zM349.77 396.12h8.93v8.93h-8.93zM290.80 404.55h17.35v8.93h-17.35zM408.75 421.40h8.93v8.93h-8.93zM307.65 429.83h8.93v8.93h-8.93zM375.05 455.10h8.93v8.93h-8.93zM391.89 455.10h8.93v8.93h-8.93zM299.22 463.53h17.35v8.93h-17.35zM349.77 480.38h8.93v8.93h-8.93zM366.62 480.38h8.93v8.93h-8.93zM383.47 488.80h8.93v8.93h-8.93zM400.32 488.80h8.93v8.93h-8.93zM349.77 497.23h8.93v8.93h-8.93zM341.35 505.65h8.93v8.93h-8.93zM105.44 514.08h8.93v8.93h-8.93zM366.62 514.08h8.93v8.93h-8.93zM307.65 522.50h8.93v8.93h-8.93zM391.89 522.50h8.93v8.93h-8.93zM105.44 530.93h8.93v8.93h-8.93zM332.92 530.93h8.93v8.93h-8.93zM214.97 539.35h8.93v8.93h-8.93zM214.97 547.78h17.35v8.93h-17.35zM307.65 547.78h8.93v8.93h-8.93zM97.02 556.20h8.93v8.93h-8.93zM156.00 556.20h8.93v8.93h-8.93zM189.69 556.20h8.93v8.93h-8.93zM164.42 564.62h8.93v8.93h-8.93zM214.97 564.62h8.93v8.93h-8.93zM282.37 564.62h8.93v8.93h-8.93z" fill="#10e8f0" opacity="0.45" filter="url(#gl)"/><path d="M375.05 160.23h8.93v8.93h-8.93zM375.05 168.65h8.93v8.93h-8.93zM383.47 185.50h8.93v8.93h-8.93zM425.60 185.50h8.93v8.93h-8.93zM408.75 227.62h8.93v8.93h-8.93zM332.92 236.05h17.35v8.93h-17.35zM366.62 236.05h8.93v8.93h-8.93zM391.89 236.05h8.93v8.93h-8.93zM282.37 244.48h8.93v8.93h-8.93zM425.60 252.90h8.93v8.93h-8.93zM332.92 261.33h8.93v8.93h-8.93zM341.35 269.75h8.93v8.93h-8.93zM417.17 278.18h8.93v8.93h-8.93zM425.60 303.45h8.93v8.93h-8.93zM400.32 320.30h8.93v8.93h-8.93zM341.35 337.15h8.93v8.93h-8.93zM332.92 345.58h17.35v8.93h-17.35zM383.47 354.00h17.35v8.93h-17.35zM366.62 362.43h8.93v8.93h-8.93zM332.92 387.70h8.93v8.93h-8.93zM341.35 396.12h8.93v8.93h-8.93zM375.05 396.12h8.93v8.93h-8.93zM189.69 404.55h8.93v8.93h-8.93zM181.27 412.98h17.35v8.93h-17.35zM307.65 421.40h8.93v8.93h-8.93zM316.07 429.83h8.93v8.93h-8.93zM417.17 429.83h8.93v8.93h-8.93zM400.32 438.25h17.35v8.93h-17.35zM189.69 446.68h8.93v8.93h-8.93zM214.97 446.68h8.93v8.93h-8.93zM189.69 455.10h8.93v8.93h-8.93zM316.07 455.10h8.93v8.93h-8.93zM383.47 455.10h8.93v8.93h-8.93zM189.69 471.95h8.93v8.93h-8.93zM273.94 471.95h8.93v8.93h-8.93zM223.40 480.38h8.93v8.93h-8.93zM282.37 480.38h8.93v8.93h-8.93zM383.47 480.38h8.93v8.93h-8.93zM273.94 497.23h8.93v8.93h-8.93zM341.35 497.23h8.93v8.93h-8.93zM417.17 497.23h8.93v8.93h-8.93zM113.87 505.65h8.93v8.93h-8.93zM349.77 505.65h8.93v8.93h-8.93zM383.47 505.65h8.93v8.93h-8.93zM425.60 505.65h8.93v8.93h-8.93zM257.10 514.08h8.93v8.93h-8.93zM316.07 514.08h8.93v8.93h-8.93zM172.84 530.93h8.93v8.93h-8.93zM231.82 530.93h8.93v8.93h-8.93zM383.47 530.93h8.93v8.93h-8.93zM105.44 539.35h8.93v8.93h-8.93zM189.69 539.35h8.93v8.93h-8.93zM231.82 539.35h8.93v8.93h-8.93zM324.50 539.35h8.93v8.93h-8.93zM156.00 547.78h8.93v8.93h-8.93zM223.40 556.20h8.93v8.93h-8.93zM282.37 556.20h8.93v8.93h-8.93zM97.02 564.62h8.93v8.93h-8.93z" fill="#fb12e6"/><path d="M400.32 177.08h8.93v8.93h-8.93zM349.77 210.78h8.93v8.93h-8.93zM282.37 236.05h17.35v8.93h-17.35zM307.65 244.48h8.93v8.93h-8.93zM265.52 252.90h8.93v8.93h-8.93zM341.35 261.33h8.93v8.93h-8.93zM366.62 303.45h8.93v8.93h-8.93zM332.92 354.00h8.93v8.93h-8.93zM375.05 354.00h8.93v8.93h-8.93zM332.92 362.43h8.93v8.93h-8.93zM358.19 370.85h17.35v8.93h-17.35zM282.37 396.12h8.93v8.93h-8.93zM307.65 396.12h8.93v8.93h-8.93zM324.50 396.12h8.93v8.93h-8.93zM349.77 396.12h8.93v8.93h-8.93zM290.80 404.55h17.35v8.93h-17.35zM408.75 421.40h8.93v8.93h-8.93zM307.65 429.83h8.93v8.93h-8.93zM375.05 455.10h8.93v8.93h-8.93zM391.89 455.10h8.93v8.93h-8.93zM299.22 463.53h17.35v8.93h-17.35zM349.77 480.38h8.93v8.93h-8.93zM366.62 480.38h8.93v8.93h-8.93zM383.47 488.80h8.93v8.93h-8.93zM400.32 488.80h8.93v8.93h-8.93zM349.77 497.23h8.93v8.93h-8.93zM341.35 505.65h8.93v8.93h-8.93zM105.44 514.08h8.93v8.93h-8.93zM366.62 514.08h8.93v8.93h-8.93zM307.65 522.50h8.93v8.93h-8.93zM391.89 522.50h8.93v8.93h-8.93zM105.44 530.93h8.93v8.93h-8.93zM332.92 530.93h8.93v8.93h-8.93zM214.97 539.35h8.93v8.93h-8.93zM214.97 547.78h17.35v8.93h-17.35zM307.65 547.78h8.93v8.93h-8.93zM97.02 556.20h8.93v8.93h-8.93zM156.00 556.20h8.93v8.93h-8.93zM189.69 556.20h8.93v8.93h-8.93zM164.42 564.62h8.93v8.93h-8.93zM214.97 564.62h8.93v8.93h-8.93zM282.37 564.62h8.93v8.93h-8.93z" fill="#0fe9ee"/></g><path d="M180.70 152V572M264.80 152V572M349.20 152V572M97 235.40H432.4M97 320.00H432.4M97 404.60H432.4M97 489.40H432.4" stroke="#ffffff" stroke-width="1" stroke-dasharray="2.2 2.2" fill="none" opacity="0.95"/><path d="M302.2 125.6H344.6V231.6H261V400.4H176.8V485.3H57.5V444.8" fill="none" stroke="#f6f000" stroke-width="1.3"/><path d="M390.6 112.2H349.3V235.2H264.7V404.6H180.5V489.4H65.2V532.3" fill="none" stroke="#f416dc" stroke-width="1.3"/><rect x="265.9" y="405.4" width="84" height="84.2" fill="none" stroke="#ffffff" stroke-width="1.5"/><path d="M265.9 405.4L718.8 216M349.9 489.6L717 520" stroke="#ffffff" stroke-width="1.1" stroke-dasharray="2 2.2" fill="none"/><polygon points="718.8,216.0 961.0,363.5 718.6,510.5 476.4,363.0" fill="#1b1d1d" /><polygon points="476.4,363.0 718.6,510.5 718.6,520.8 476.4,373.3" fill="#141515" /><polygon points="961.0,363.5 718.6,510.5 718.6,520.8 961.0,373.8" fill="#0b0b0b" /><path d="M718.8 215.4L768.2 245.5L743.0 260.8L693.6 230.7zM694.6 230.1L792.4 289.7L767.2 305.0L669.4 245.4zM912.5 362.9L937.7 378.2L912.5 393.5L887.3 378.1zM670.3 244.8L768.2 304.4L743.0 319.7L645.1 260.1zM646.1 259.5L768.1 333.9L742.9 349.1L620.9 274.8zM621.8 274.2L719.7 333.8L694.5 349.1L596.6 289.5zM815.6 392.2L865.0 422.3L839.8 437.6L790.4 407.5zM597.6 288.9L622.8 304.3L597.6 319.5L572.4 304.2zM670.3 333.2L695.4 348.5L670.2 363.8L645.1 348.4zM791.4 406.9L840.8 437.0L815.6 452.3L766.2 422.2zM742.9 406.9L816.5 451.7L791.3 467.0L717.7 422.1zM694.4 406.8L792.3 466.4L767.1 481.7L669.2 422.1zM524.9 333.0L550.1 348.4L524.9 363.6L499.7 348.3zM597.5 377.3L622.7 392.6L597.5 407.9L572.3 392.5zM646.0 406.8L768.0 481.1L742.8 496.4L620.8 422.0zM500.6 347.7L550.0 377.8L524.8 393.1L475.4 363.0zM597.5 406.7L743.8 495.8L718.6 511.1L572.3 422.0z" fill="url(#gtop)"/><polygon points="718.8,216.0 961.0,363.5 961.0,373.8 718.6,520.8 476.4,373.3 476.4,363.0" fill="none" stroke="#ffffff" stroke-width="1.6" stroke-linejoin="round" /><line x1="803.6" y1="251.6" x2="803.6" y2="241.1" stroke="#ffffff" stroke-width="1.3" /><line x1="815.7" y1="259.0" x2="815.7" y2="248.5" stroke="#ffffff" stroke-width="1.3" /><line x1="803.6" y1="266.4" x2="803.6" y2="255.9" stroke="#ffffff" stroke-width="1.3" /><line x1="791.4" y1="259.0" x2="791.4" y2="248.5" stroke="#ffffff" stroke-width="1.3" /><polygon points="803.6,241.1 815.7,248.5 803.6,255.9 791.4,248.5" fill="none" stroke="#ffffff" stroke-width="1.3" stroke-linejoin="round" /><line x1="791.4" y1="248.5" x2="815.7" y2="248.5" stroke="#c4cccc" stroke-width="0.6" /><polygon points="770.1,264.0 791.4,276.9 791.4,287.9 770.1,275.0" fill="#19d2c9" /><polygon points="812.8,264.0 791.4,276.9 791.4,287.9 812.8,275.0" fill="#12bdb6" /><polygon points="791.5,251.0 812.8,264.0 791.4,276.9 770.1,264.0" fill="#27e6dc" /><polygon points="778.9,257.5 794.8,267.2 794.8,282.9 778.9,273.2" fill="#1cd9d0" /><polygon points="809.4,258.4 794.8,267.2 794.8,282.9 809.4,274.1" fill="#14c2ba" /><polygon points="793.4,248.7 809.4,258.4 794.8,267.2 778.9,257.5" fill="#2ff0e6" /><line x1="779.3" y1="282.3" x2="779.3" y2="266.3" stroke="#c4cccc" stroke-width="0.9" /><line x1="803.6" y1="282.4" x2="803.6" y2="266.4" stroke="#c4cccc" stroke-width="0.9" /><line x1="803.6" y1="251.6" x2="779.3" y2="266.3" stroke="#c4cccc" stroke-width="0.8" /><line x1="779.3" y1="251.6" x2="803.6" y2="266.4" stroke="#c4cccc" stroke-width="0.8" /><line x1="767.2" y1="266.9" x2="791.4" y2="281.7" stroke="#c4cccc" stroke-width="0.8" /><line x1="815.7" y1="267.0" x2="791.4" y2="281.7" stroke="#c4cccc" stroke-width="0.8" /><line x1="791.4" y1="289.7" x2="791.4" y2="273.7" stroke="#ffffff" stroke-width="1.1" /><polygon points="791.5,244.2 815.7,259.0 791.4,273.7 767.2,258.9" fill="none" stroke="#ffffff" stroke-width="1.1" stroke-linejoin="round" /><polygon points="791.5,244.2 815.7,259.0 815.7,275.0 791.4,289.7 767.2,274.9 767.2,258.9" fill="none" stroke="#ffffff" stroke-width="1.8" stroke-linejoin="round" /><line x1="827.8" y1="266.4" x2="827.8" y2="255.9" stroke="#ffffff" stroke-width="1.3" /><line x1="839.9" y1="273.8" x2="839.9" y2="263.2" stroke="#ffffff" stroke-width="1.3" /><line x1="827.8" y1="281.1" x2="827.8" y2="270.6" stroke="#ffffff" stroke-width="1.3" /><line x1="815.7" y1="273.7" x2="815.7" y2="263.2" stroke="#ffffff" stroke-width="1.3" /><polygon points="827.8,255.9 839.9,263.2 827.8,270.6 815.7,263.2" fill="none" stroke="#ffffff" stroke-width="1.3" stroke-linejoin="round" /><line x1="815.7" y1="263.2" x2="839.9" y2="263.2" stroke="#c4cccc" stroke-width="0.6" /><polygon points="794.3,278.7 815.7,291.7 815.7,302.7 794.3,289.7" fill="#19d2c9" /><polygon points="837.0,278.7 815.7,291.7 815.7,302.7 837.0,289.7" fill="#12bdb6" /><polygon points="815.7,265.8 837.0,278.7 815.7,291.7 794.3,278.7" fill="#27e6dc" /><polygon points="803.1,272.2 819.1,282.0 819.1,297.7 803.1,287.9" fill="#1cd9d0" /><polygon points="833.6,273.2 819.1,282.0 819.1,297.7 833.6,288.9" fill="#14c2ba" /><polygon points="817.6,263.4 833.6,273.2 819.1,282.0 803.1,272.2" fill="#2ff0e6" /><line x1="803.5" y1="297.1" x2="803.5" y2="281.1" stroke="#c4cccc" stroke-width="0.9" /><line x1="827.8" y1="297.1" x2="827.8" y2="281.1" stroke="#c4cccc" stroke-width="0.9" /><line x1="827.8" y1="266.4" x2="803.5" y2="281.1" stroke="#c4cccc" stroke-width="0.8" /><line x1="803.6" y1="266.4" x2="827.8" y2="281.1" stroke="#c4cccc" stroke-width="0.8" /><line x1="791.4" y1="281.7" x2="815.7" y2="296.4" stroke="#c4cccc" stroke-width="0.8" /><line x1="839.9" y1="281.8" x2="815.7" y2="296.4" stroke="#c4cccc" stroke-width="0.8" /><line x1="815.7" y1="304.4" x2="815.7" y2="288.4" stroke="#ffffff" stroke-width="1.1" /><polygon points="815.7,259.0 839.9,273.8 815.7,288.4 791.4,273.7" fill="none" stroke="#ffffff" stroke-width="1.1" stroke-linejoin="round" /><polygon points="815.7,259.0 839.9,273.8 839.9,289.8 815.7,304.4 791.4,289.7 791.4,273.7" fill="none" stroke="#ffffff" stroke-width="1.8" stroke-linejoin="round" /><polygon points="745.9,282.7 767.2,295.6 767.2,302.6 745.9,289.7" fill="#24d2be" /><polygon points="788.5,282.7 767.2,295.6 767.2,302.6 788.5,289.7" fill="#1cbcaa" /><polygon points="767.2,269.7 788.5,282.7 767.2,295.6 745.9,282.7" fill="#2adcc8" /><polygon points="745.9,275.2 767.2,288.1 767.2,294.6 745.9,281.7" fill="#4c9416" /><polygon points="788.5,275.2 767.2,288.1 767.2,294.6 788.5,281.7" fill="#417f12" /><polygon points="767.2,262.2 788.5,275.2 767.2,288.1 745.9,275.2" fill="#4f9a18" /><polygon points="745.9,276.9 767.2,289.8 767.2,292.4 745.9,279.5" fill="#86d222" /><polygon points="788.5,276.9 767.2,289.8 767.2,292.4 788.5,279.5" fill="#74bd1c" /><polygon points="767.2,262.8 786.6,274.6 782.0,277.4 762.6,265.6" fill="#92e024" /><polygon points="759.9,267.2 779.3,279.0 774.7,281.8 755.3,270.0" fill="#92e024" /><polygon points="752.7,271.6 772.0,283.4 767.4,286.2 748.1,274.4" fill="#92e024" /><line x1="755.1" y1="297.0" x2="755.1" y2="281.0" stroke="#c4cccc" stroke-width="0.9" /><line x1="779.3" y1="297.1" x2="779.3" y2="281.1" stroke="#c4cccc" stroke-width="0.9" /><line x1="743.0" y1="282.1" x2="767.2" y2="296.9" stroke="#c4cccc" stroke-width="0.8" /><line x1="791.4" y1="282.2" x2="767.2" y2="296.9" stroke="#c4cccc" stroke-width="0.8" /><line x1="767.2" y1="304.4" x2="767.2" y2="288.4" stroke="#ffffff" stroke-width="1.1" /><polygon points="767.2,258.9 791.4,273.7 767.2,288.4 743.0,273.6" fill="none" stroke="#ffffff" stroke-width="1.1" stroke-linejoin="round" /><polygon points="767.2,258.9 791.4,273.7 791.4,289.7 767.2,304.4 743.0,289.6 743.0,273.6" fill="none" stroke="#ffffff" stroke-width="1.8" stroke-linejoin="round" /><polygon points="597.6,298.1 623.3,313.7 597.6,329.3 571.9,313.6" fill="#ffffff" /><polygon points="767.2,313.4 791.4,328.1 791.4,348.6 767.2,333.9" fill="#f03af0" /><polygon points="815.6,313.4 791.4,328.1 791.4,348.6 815.6,333.9" fill="#d230dc" /><polygon points="791.4,298.6 815.6,313.4 791.4,328.1 767.2,313.4" fill="#73388a" /><line x1="797.5" y1="302.3" x2="773.2" y2="317.0" stroke="#c050d8" stroke-width="0.6" /><line x1="785.4" y1="302.3" x2="809.6" y2="317.1" stroke="#c050d8" stroke-width="0.6" /><line x1="803.5" y1="306.0" x2="779.3" y2="320.7" stroke="#c050d8" stroke-width="0.6" /><line x1="779.3" y1="306.0" x2="803.5" y2="320.8" stroke="#c050d8" stroke-width="0.6" /><line x1="809.6" y1="309.7" x2="785.3" y2="324.4" stroke="#c050d8" stroke-width="0.6" /><line x1="773.2" y1="309.7" x2="797.5" y2="324.4" stroke="#c050d8" stroke-width="0.6" /><polygon points="791.4,298.6 815.6,313.4 791.4,328.1 767.2,313.4" fill="none" stroke="#f848f8" stroke-width="1.6" stroke-linejoin="round" /><polygon points="767.2,313.4 791.4,328.1 791.4,331.1 767.2,316.4" fill="#f060f0" /><polygon points="815.6,313.4 791.4,328.1 791.4,331.1 815.6,316.4" fill="#d850e0" /><polygon points="772.0,324.8 777.8,328.3 777.8,334.3 772.0,330.8" fill="#9a4aa0" /><polygon points="782.7,333.3 785.1,334.8 785.1,344.3 782.7,342.8" fill="#a868ac" /><polygon points="800.6,331.0 807.4,326.9 807.4,332.9 800.6,337.0" fill="#8a3a92" /><line x1="791.4" y1="348.6" x2="791.4" y2="328.1" stroke="#d8c8dc" stroke-width="1.0" /><polygon points="791.4,298.6 815.6,313.4 815.6,333.9 791.4,348.6 767.2,333.9 767.2,313.4" fill="none" stroke="#ffffff" stroke-width="1.8" stroke-linejoin="round" /><polygon points="646.7,328.0 621.1,343.6 621.1,363.6 646.7,348.0" fill="#d0d4d4" /><polygon points="621.8,312.8 647.5,328.5 621.8,344.0 596.1,328.4" fill="#ffffff" /><polygon points="548.4,327.9 574.0,343.5 574.0,363.5 548.4,347.9" fill="url(#wl)" /><polygon points="573.3,312.8 599.0,328.4 573.3,344.0 547.6,328.3" fill="#ffffff" /><line x1="779.3" y1="325.2" x2="779.3" y2="314.7" stroke="#ffffff" stroke-width="1.3" /><line x1="791.4" y1="332.6" x2="791.4" y2="322.1" stroke="#ffffff" stroke-width="1.3" /><line x1="779.3" y1="339.9" x2="779.3" y2="329.4" stroke="#ffffff" stroke-width="1.3" /><line x1="767.2" y1="332.6" x2="767.2" y2="322.1" stroke="#ffffff" stroke-width="1.3" /><polygon points="779.3,314.7 791.4,322.1 779.3,329.4 767.2,322.1" fill="none" stroke="#ffffff" stroke-width="1.3" stroke-linejoin="round" /><line x1="767.2" y1="322.1" x2="791.4" y2="322.1" stroke="#c4cccc" stroke-width="0.6" /><polygon points="745.8,337.6 767.2,350.5 767.2,361.5 745.8,348.6" fill="#19d2c9" /><polygon points="788.5,337.6 767.2,350.5 767.2,361.5 788.5,348.6" fill="#12bdb6" /><polygon points="767.2,324.6 788.5,337.6 767.2,350.5 745.8,337.6" fill="#27e6dc" /><polygon points="754.6,331.1 770.6,340.8 770.6,356.5 754.6,346.8" fill="#1cd9d0" /><polygon points="785.1,332.0 770.6,340.8 770.6,356.5 785.1,347.7" fill="#14c2ba" /><polygon points="769.1,322.3 785.1,332.0 770.6,340.8 754.6,331.1" fill="#2ff0e6" /><line x1="755.0" y1="355.9" x2="755.0" y2="339.9" stroke="#c4cccc" stroke-width="0.9" /><line x1="779.3" y1="355.9" x2="779.3" y2="339.9" stroke="#c4cccc" stroke-width="0.9" /><line x1="779.3" y1="325.2" x2="755.0" y2="339.9" stroke="#c4cccc" stroke-width="0.8" /><line x1="755.1" y1="325.2" x2="779.3" y2="339.9" stroke="#c4cccc" stroke-width="0.8" /><line x1="742.9" y1="340.6" x2="767.2" y2="355.3" stroke="#c4cccc" stroke-width="0.8" /><line x1="791.4" y1="340.6" x2="767.2" y2="355.3" stroke="#c4cccc" stroke-width="0.8" /><line x1="767.2" y1="363.3" x2="767.2" y2="347.3" stroke="#ffffff" stroke-width="1.1" /><polygon points="767.2,317.9 791.4,332.6 767.2,347.3 742.9,332.6" fill="none" stroke="#ffffff" stroke-width="1.1" stroke-linejoin="round" /><polygon points="767.2,317.9 791.4,332.6 791.4,348.6 767.2,363.3 742.9,348.6 742.9,332.6" fill="none" stroke="#ffffff" stroke-width="1.8" stroke-linejoin="round" /><polygon points="648.9,341.5 670.2,354.4 670.2,361.4 648.9,348.5" fill="#24d2be" /><polygon points="691.6,341.5 670.2,354.4 670.2,361.4 691.6,348.5" fill="#1cbcaa" /><polygon points="670.3,328.5 691.6,341.5 670.2,354.4 648.9,341.5" fill="#2adcc8" /><polygon points="648.9,334.0 670.2,346.9 670.2,353.4 648.9,340.5" fill="#4c9416" /><polygon points="691.6,334.0 670.2,346.9 670.2,353.4 691.6,340.5" fill="#417f12" /><polygon points="670.3,321.0 691.6,334.0 670.2,346.9 648.9,334.0" fill="#4f9a18" /><polygon points="648.9,335.7 670.2,348.6 670.2,351.2 648.9,338.3" fill="#86d222" /><polygon points="691.6,335.7 670.2,348.6 670.2,351.2 691.6,338.3" fill="#74bd1c" /><polygon points="670.3,321.6 689.6,333.4 685.0,336.2 665.7,324.4" fill="#92e024" /><polygon points="663.0,326.0 682.4,337.8 677.8,340.6 658.4,328.8" fill="#92e024" /><polygon points="655.7,330.4 675.1,342.2 670.5,345.0 651.1,333.2" fill="#92e024" /><line x1="658.1" y1="355.8" x2="658.1" y2="339.8" stroke="#c4cccc" stroke-width="0.9" /><line x1="682.4" y1="355.9" x2="682.4" y2="339.9" stroke="#c4cccc" stroke-width="0.9" /><line x1="646.0" y1="340.9" x2="670.2" y2="355.7" stroke="#c4cccc" stroke-width="0.8" /><line x1="694.5" y1="341.0" x2="670.2" y2="355.7" stroke="#c4cccc" stroke-width="0.8" /><line x1="670.2" y1="363.2" x2="670.2" y2="347.2" stroke="#ffffff" stroke-width="1.1" /><polygon points="670.3,317.8 694.5,332.5 670.2,347.2 646.0,332.4" fill="none" stroke="#ffffff" stroke-width="1.1" stroke-linejoin="round" /><polygon points="670.3,317.8 694.5,332.5 694.5,348.5 670.2,363.2 646.0,348.4 646.0,332.4" fill="none" stroke="#ffffff" stroke-width="1.8" stroke-linejoin="round" /><polygon points="814.9,342.9 840.6,358.5 840.6,378.5 814.9,362.9" fill="url(#wl)" /><polygon points="839.9,327.8 865.5,343.4 839.8,359.0 814.2,343.3" fill="#ffffff" /><polygon points="767.9,342.9 742.2,358.4 742.2,378.4 767.9,362.9" fill="#d0d4d4" /><polygon points="742.9,327.7 768.6,343.3 742.9,358.9 717.2,343.2" fill="#ffffff" /><polygon points="572.6,342.7 598.3,358.3 598.3,378.3 572.6,362.7" fill="url(#wl)" /><polygon points="597.6,327.5 623.2,343.2 597.5,358.7 571.9,343.1" fill="#ffffff" /><polygon points="767.2,342.8 791.4,357.6 791.4,378.1 767.2,363.3" fill="#f03af0" /><polygon points="815.6,342.9 791.4,357.6 791.4,378.1 815.6,363.4" fill="#d230dc" /><polygon points="791.4,328.1 815.6,342.9 791.4,357.6 767.2,342.8" fill="#73388a" /><line x1="797.5" y1="331.8" x2="773.2" y2="346.5" stroke="#c050d8" stroke-width="0.6" /><line x1="785.3" y1="331.8" x2="809.6" y2="346.5" stroke="#c050d8" stroke-width="0.6" /><line x1="803.5" y1="335.5" x2="779.3" y2="350.2" stroke="#c050d8" stroke-width="0.6" /><line x1="779.3" y1="335.4" x2="803.5" y2="350.2" stroke="#c050d8" stroke-width="0.6" /><line x1="809.6" y1="339.2" x2="785.3" y2="353.9" stroke="#c050d8" stroke-width="0.6" /><line x1="773.2" y1="339.1" x2="797.4" y2="353.9" stroke="#c050d8" stroke-width="0.6" /><polygon points="791.4,328.1 815.6,342.9 791.4,357.6 767.2,342.8" fill="none" stroke="#f848f8" stroke-width="1.6" stroke-linejoin="round" /><polygon points="767.2,342.8 791.4,357.6 791.4,360.6 767.2,345.8" fill="#f060f0" /><polygon points="815.6,342.9 791.4,357.6 791.4,360.6 815.6,345.9" fill="#d850e0" /><polygon points="772.0,354.2 777.8,357.8 777.8,363.8 772.0,360.2" fill="#9a4aa0" /><polygon points="782.7,362.7 785.1,364.2 785.1,373.7 782.7,372.2" fill="#a868ac" /><polygon points="800.6,360.5 807.4,356.3 807.4,362.3 800.6,366.5" fill="#8a3a92" /><line x1="791.4" y1="378.1" x2="791.4" y2="357.6" stroke="#d8c8dc" stroke-width="1.0" /><polygon points="791.4,328.1 815.6,342.9 815.6,363.4 791.4,378.1 767.2,363.3 767.2,342.8" fill="none" stroke="#ffffff" stroke-width="1.8" stroke-linejoin="round" /><polygon points="524.9,342.5 549.1,357.3 549.1,377.8 524.9,363.0" fill="#f03af0" /><polygon points="573.3,342.6 549.1,357.3 549.1,377.8 573.3,363.1" fill="#d230dc" /><polygon points="549.1,327.9 573.3,342.6 549.1,357.3 524.9,342.5" fill="#73388a" /><line x1="555.2" y1="331.5" x2="530.9" y2="346.2" stroke="#c050d8" stroke-width="0.6" /><line x1="543.0" y1="331.5" x2="567.3" y2="346.3" stroke="#c050d8" stroke-width="0.6" /><line x1="561.2" y1="335.2" x2="537.0" y2="349.9" stroke="#c050d8" stroke-width="0.6" /><line x1="537.0" y1="335.2" x2="561.2" y2="349.9" stroke="#c050d8" stroke-width="0.6" /><line x1="567.3" y1="338.9" x2="543.0" y2="353.6" stroke="#c050d8" stroke-width="0.6" /><line x1="530.9" y1="338.9" x2="555.1" y2="353.6" stroke="#c050d8" stroke-width="0.6" /><polygon points="549.1,327.9 573.3,342.6 549.1,357.3 524.9,342.5" fill="none" stroke="#f848f8" stroke-width="1.6" stroke-linejoin="round" /><polygon points="524.9,342.5 549.1,357.3 549.1,360.3 524.9,345.5" fill="#f060f0" /><polygon points="573.3,342.6 549.1,357.3 549.1,360.3 573.3,345.6" fill="#d850e0" /><polygon points="529.7,354.0 535.5,357.5 535.5,363.5 529.7,360.0" fill="#9a4aa0" /><polygon points="540.4,362.5 542.8,364.0 542.8,373.5 540.4,372.0" fill="#a868ac" /><polygon points="558.3,360.2 565.1,356.1 565.1,362.1 558.3,366.2" fill="#8a3a92" /><line x1="549.1" y1="377.8" x2="549.1" y2="357.3" stroke="#d8c8dc" stroke-width="1.0" /><polygon points="549.1,327.9 573.3,342.6 573.3,363.1 549.1,377.8 524.9,363.0 524.9,342.5" fill="none" stroke="#ffffff" stroke-width="1.8" stroke-linejoin="round" /><polygon points="839.1,357.7 864.8,373.3 864.8,393.3 839.1,377.7" fill="url(#wl)" /><polygon points="889.0,357.7 863.3,373.3 863.3,393.3 889.0,377.7" fill="#d0d4d4" /><polygon points="864.1,342.5 889.8,358.2 864.1,373.7 838.4,358.1" fill="#ffffff" /><polygon points="693.7,357.5 719.4,373.1 719.4,393.1 693.7,377.5" fill="url(#wl)" /><polygon points="743.6,357.6 718.0,373.1 718.0,393.1 743.6,377.6" fill="#d0d4d4" /><polygon points="718.7,342.4 744.4,358.0 718.7,373.6 693.0,357.9" fill="#ffffff" /><polygon points="596.8,357.4 622.5,373.0 622.5,393.0 596.8,377.4" fill="url(#wl)" /><polygon points="646.7,357.5 621.0,373.0 621.0,393.0 646.7,377.5" fill="#d0d4d4" /><polygon points="621.8,342.3 647.5,357.9 621.8,373.5 596.1,357.8" fill="#ffffff" /><polygon points="891.2,371.2 912.5,384.1 912.5,391.1 891.2,378.2" fill="#24d2be" /><polygon points="933.9,371.2 912.5,384.1 912.5,391.1 933.9,378.2" fill="#1cbcaa" /><polygon points="912.5,358.2 933.9,371.2 912.5,384.1 891.2,371.2" fill="#2adcc8" /><polygon points="891.2,363.7 912.5,376.6 912.5,383.1 891.2,370.2" fill="#4c9416" /><polygon points="933.9,363.7 912.5,376.6 912.5,383.1 933.9,370.2" fill="#417f12" /><polygon points="912.5,350.7 933.9,363.7 912.5,376.6 891.2,363.7" fill="#4f9a18" /><polygon points="891.2,365.4 912.5,378.3 912.5,380.9 891.2,368.0" fill="#86d222" /><polygon points="933.9,365.4 912.5,378.3 912.5,380.9 933.9,368.0" fill="#74bd1c" /><polygon points="912.5,351.3 931.9,363.1 927.3,365.9 907.9,354.1" fill="#92e024" /><polygon points="905.3,355.7 924.6,367.5 920.0,370.3 900.7,358.5" fill="#92e024" /><polygon points="898.0,360.1 917.4,371.9 912.8,374.7 893.4,362.9" fill="#92e024" /><line x1="900.4" y1="385.5" x2="900.4" y2="369.5" stroke="#c4cccc" stroke-width="0.9" /><line x1="924.6" y1="385.6" x2="924.6" y2="369.6" stroke="#c4cccc" stroke-width="0.9" /><line x1="888.3" y1="370.6" x2="912.5" y2="385.4" stroke="#c4cccc" stroke-width="0.8" /><line x1="936.8" y1="370.7" x2="912.5" y2="385.4" stroke="#c4cccc" stroke-width="0.8" /><line x1="912.5" y1="392.9" x2="912.5" y2="376.9" stroke="#ffffff" stroke-width="1.1" /><polygon points="912.5,347.4 936.8,362.2 912.5,376.9 888.3,362.1" fill="none" stroke="#ffffff" stroke-width="1.1" stroke-linejoin="round" /><polygon points="912.5,347.4 936.8,362.2 936.8,378.2 912.5,392.9 888.3,378.1 888.3,362.1" fill="none" stroke="#ffffff" stroke-width="1.8" stroke-linejoin="round" /><line x1="658.1" y1="369.3" x2="658.1" y2="358.8" stroke="#ffffff" stroke-width="1.3" /><line x1="670.2" y1="376.6" x2="670.2" y2="366.1" stroke="#ffffff" stroke-width="1.3" /><line x1="658.1" y1="384.0" x2="658.1" y2="373.5" stroke="#ffffff" stroke-width="1.3" /><line x1="646.0" y1="376.6" x2="646.0" y2="366.1" stroke="#ffffff" stroke-width="1.3" /><polygon points="658.1,358.8 670.2,366.1 658.1,373.5 646.0,366.1" fill="none" stroke="#ffffff" stroke-width="1.3" stroke-linejoin="round" /><line x1="646.0" y1="366.1" x2="670.2" y2="366.1" stroke="#c4cccc" stroke-width="0.6" /><polygon points="624.7,381.6 646.0,394.6 646.0,405.6 624.7,392.6" fill="#19d2c9" /><polygon points="667.3,381.6 646.0,394.6 646.0,405.6 667.3,392.6" fill="#12bdb6" /><polygon points="646.0,368.7 667.3,381.6 646.0,394.6 624.7,381.6" fill="#27e6dc" /><polygon points="633.4,375.1 649.4,384.9 649.4,400.6 633.4,390.8" fill="#1cd9d0" /><polygon points="663.9,376.1 649.4,384.9 649.4,400.6 663.9,391.8" fill="#14c2ba" /><polygon points="647.9,366.3 663.9,376.1 649.4,384.9 633.4,375.1" fill="#2ff0e6" /><line x1="633.9" y1="400.0" x2="633.9" y2="384.0" stroke="#c4cccc" stroke-width="0.9" /><line x1="658.1" y1="400.0" x2="658.1" y2="384.0" stroke="#c4cccc" stroke-width="0.9" /><line x1="658.1" y1="369.3" x2="633.9" y2="384.0" stroke="#c4cccc" stroke-width="0.8" /><line x1="633.9" y1="369.2" x2="658.1" y2="384.0" stroke="#c4cccc" stroke-width="0.8" /><line x1="621.8" y1="384.6" x2="646.0" y2="399.4" stroke="#c4cccc" stroke-width="0.8" /><line x1="670.2" y1="384.6" x2="646.0" y2="399.4" stroke="#c4cccc" stroke-width="0.8" /><line x1="646.0" y1="407.4" x2="646.0" y2="391.4" stroke="#ffffff" stroke-width="1.1" /><polygon points="646.0,361.9 670.2,376.6 646.0,391.4 621.8,376.6" fill="none" stroke="#ffffff" stroke-width="1.1" stroke-linejoin="round" /><polygon points="646.0,361.9 670.2,376.6 670.2,392.6 646.0,407.4 621.8,392.6 621.8,376.6" fill="none" stroke="#ffffff" stroke-width="1.8" stroke-linejoin="round" /><polygon points="576.2,385.6 597.5,398.5 597.5,405.5 576.2,392.6" fill="#24d2be" /><polygon points="618.9,385.6 597.5,398.5 597.5,405.5 618.9,392.6" fill="#1cbcaa" /><polygon points="597.5,372.6 618.9,385.6 597.5,398.5 576.2,385.6" fill="#2adcc8" /><polygon points="576.2,378.1 597.5,391.0 597.5,397.5 576.2,384.6" fill="#4c9416" /><polygon points="618.9,378.1 597.5,391.0 597.5,397.5 618.9,384.6" fill="#417f12" /><polygon points="597.5,365.1 618.9,378.1 597.5,391.0 576.2,378.1" fill="#4f9a18" /><polygon points="576.2,379.8 597.5,392.7 597.5,395.3 576.2,382.4" fill="#86d222" /><polygon points="618.9,379.8 597.5,392.7 597.5,395.3 618.9,382.4" fill="#74bd1c" /><polygon points="597.5,365.7 616.9,377.5 612.3,380.3 592.9,368.5" fill="#92e024" /><polygon points="590.3,370.1 609.6,381.9 605.0,384.7 585.7,372.9" fill="#92e024" /><polygon points="583.0,374.5 602.4,386.3 597.8,389.1 578.4,377.3" fill="#92e024" /><line x1="585.4" y1="399.9" x2="585.4" y2="383.9" stroke="#c4cccc" stroke-width="0.9" /><line x1="609.6" y1="399.9" x2="609.6" y2="383.9" stroke="#c4cccc" stroke-width="0.9" /><line x1="573.3" y1="385.0" x2="597.5" y2="399.8" stroke="#c4cccc" stroke-width="0.8" /><line x1="621.8" y1="385.1" x2="597.5" y2="399.8" stroke="#c4cccc" stroke-width="0.8" /><line x1="597.5" y1="407.3" x2="597.5" y2="391.3" stroke="#ffffff" stroke-width="1.1" /><polygon points="597.5,361.9 621.8,376.6 597.5,391.3 573.3,376.5" fill="none" stroke="#ffffff" stroke-width="1.1" stroke-linejoin="round" /><polygon points="597.5,361.9 621.8,376.6 621.8,392.6 597.5,407.3 573.3,392.5 573.3,376.5" fill="none" stroke="#ffffff" stroke-width="1.8" stroke-linejoin="round" /><polygon points="524.8,372.0 549.1,386.8 549.1,407.2 524.8,392.5" fill="#f03af0" /><polygon points="573.3,372.0 549.1,386.8 549.1,407.2 573.3,392.5" fill="#d230dc" /><polygon points="549.1,357.3 573.3,372.0 549.1,386.8 524.8,372.0" fill="#73388a" /><line x1="555.1" y1="361.0" x2="530.9" y2="375.7" stroke="#c050d8" stroke-width="0.6" /><line x1="543.0" y1="361.0" x2="567.2" y2="375.7" stroke="#c050d8" stroke-width="0.6" /><line x1="561.2" y1="364.7" x2="536.9" y2="379.4" stroke="#c050d8" stroke-width="0.6" /><line x1="537.0" y1="364.6" x2="561.2" y2="379.4" stroke="#c050d8" stroke-width="0.6" /><line x1="567.2" y1="368.4" x2="543.0" y2="383.1" stroke="#c050d8" stroke-width="0.6" /><line x1="530.9" y1="368.3" x2="555.1" y2="383.1" stroke="#c050d8" stroke-width="0.6" /><polygon points="549.1,357.3 573.3,372.0 549.1,386.8 524.8,372.0" fill="none" stroke="#f848f8" stroke-width="1.6" stroke-linejoin="round" /><polygon points="524.8,372.0 549.1,386.8 549.1,389.8 524.8,375.0" fill="#f060f0" /><polygon points="573.3,372.0 549.1,386.8 549.1,389.8 573.3,375.0" fill="#d850e0" /><polygon points="529.7,383.4 535.5,387.0 535.5,393.0 529.7,389.4" fill="#9a4aa0" /><polygon points="540.3,391.9 542.8,393.4 542.8,402.9 540.3,401.4" fill="#a868ac" /><polygon points="558.3,389.7 565.1,385.5 565.1,391.5 558.3,395.7" fill="#8a3a92" /><line x1="549.1" y1="407.2" x2="549.1" y2="386.8" stroke="#d8c8dc" stroke-width="1.0" /><polygon points="549.1,357.3 573.3,372.0 573.3,392.5 549.1,407.2 524.8,392.5 524.8,372.0" fill="none" stroke="#ffffff" stroke-width="1.8" stroke-linejoin="round" /><polygon points="794.3,400.5 815.6,413.5 815.6,420.5 794.3,407.5" fill="#24d2be" /><polygon points="836.9,400.5 815.6,413.5 815.6,420.5 836.9,407.5" fill="#1cbcaa" /><polygon points="815.6,387.6 836.9,400.5 815.6,413.5 794.3,400.5" fill="#2adcc8" /><polygon points="794.3,393.0 815.6,406.0 815.6,412.5 794.3,399.5" fill="#4c9416" /><polygon points="836.9,393.0 815.6,406.0 815.6,412.5 836.9,399.5" fill="#417f12" /><polygon points="815.6,380.1 836.9,393.0 815.6,406.0 794.3,393.0" fill="#4f9a18" /><polygon points="794.3,394.7 815.6,407.7 815.6,410.3 794.3,397.3" fill="#86d222" /><polygon points="836.9,394.7 815.6,407.7 815.6,410.3 836.9,397.3" fill="#74bd1c" /><polygon points="815.6,380.6 835.0,392.4 830.4,395.2 811.0,383.4" fill="#92e024" /><polygon points="808.3,385.1 827.7,396.9 823.1,399.6 803.7,387.8" fill="#92e024" /><polygon points="801.1,389.5 820.4,401.3 815.8,404.1 796.4,392.3" fill="#92e024" /><line x1="803.5" y1="414.9" x2="803.5" y2="398.9" stroke="#c4cccc" stroke-width="0.9" /><line x1="827.7" y1="414.9" x2="827.7" y2="398.9" stroke="#c4cccc" stroke-width="0.9" /><line x1="791.4" y1="400.0" x2="815.6" y2="414.8" stroke="#c4cccc" stroke-width="0.8" /><line x1="839.8" y1="400.1" x2="815.6" y2="414.8" stroke="#c4cccc" stroke-width="0.8" /><line x1="815.6" y1="422.2" x2="815.6" y2="406.2" stroke="#ffffff" stroke-width="1.1" /><polygon points="815.6,376.8 839.8,391.6 815.6,406.2 791.4,391.5" fill="none" stroke="#ffffff" stroke-width="1.1" stroke-linejoin="round" /><polygon points="815.6,376.8 839.8,391.6 839.8,407.6 815.6,422.2 791.4,407.5 791.4,391.5" fill="none" stroke="#ffffff" stroke-width="1.8" stroke-linejoin="round" /><polygon points="694.4,386.9 718.7,401.6 718.7,422.1 694.4,407.4" fill="#f03af0" /><polygon points="742.9,386.9 718.7,401.6 718.7,422.1 742.9,407.4" fill="#d230dc" /><polygon points="718.7,372.2 742.9,386.9 718.7,401.6 694.4,386.9" fill="#73388a" /><line x1="724.7" y1="375.9" x2="700.5" y2="390.6" stroke="#c050d8" stroke-width="0.6" /><line x1="712.6" y1="375.9" x2="736.8" y2="390.6" stroke="#c050d8" stroke-width="0.6" /><line x1="730.8" y1="379.6" x2="706.6" y2="394.3" stroke="#c050d8" stroke-width="0.6" /><line x1="706.6" y1="379.6" x2="730.8" y2="394.3" stroke="#c050d8" stroke-width="0.6" /><line x1="736.8" y1="383.3" x2="712.6" y2="398.0" stroke="#c050d8" stroke-width="0.6" /><line x1="700.5" y1="383.2" x2="724.7" y2="398.0" stroke="#c050d8" stroke-width="0.6" /><polygon points="718.7,372.2 742.9,386.9 718.7,401.6 694.4,386.9" fill="none" stroke="#f848f8" stroke-width="1.6" stroke-linejoin="round" /><polygon points="694.4,386.9 718.7,401.6 718.7,404.6 694.4,389.9" fill="#f060f0" /><polygon points="742.9,386.9 718.7,401.6 718.7,404.6 742.9,389.9" fill="#d850e0" /><polygon points="699.3,398.3 705.1,401.9 705.1,407.9 699.3,404.3" fill="#9a4aa0" /><polygon points="709.9,406.8 712.4,408.3 712.4,417.8 709.9,416.3" fill="#a868ac" /><polygon points="727.9,404.6 734.7,400.4 734.7,406.4 727.9,410.6" fill="#8a3a92" /><line x1="718.7" y1="422.1" x2="718.7" y2="401.6" stroke="#d8c8dc" stroke-width="1.0" /><polygon points="718.7,372.2 742.9,386.9 742.9,407.4 718.7,422.1 694.4,407.4 694.4,386.9" fill="none" stroke="#ffffff" stroke-width="1.8" stroke-linejoin="round" /><line x1="682.3" y1="384.0" x2="682.3" y2="373.5" stroke="#ffffff" stroke-width="1.3" /><line x1="694.4" y1="391.4" x2="694.4" y2="380.9" stroke="#ffffff" stroke-width="1.3" /><line x1="682.3" y1="398.8" x2="682.3" y2="388.2" stroke="#ffffff" stroke-width="1.3" /><line x1="670.2" y1="391.4" x2="670.2" y2="380.9" stroke="#ffffff" stroke-width="1.3" /><polygon points="682.3,373.5 694.4,380.9 682.3,388.2 670.2,380.9" fill="none" stroke="#ffffff" stroke-width="1.3" stroke-linejoin="round" /><line x1="670.2" y1="380.9" x2="694.4" y2="380.9" stroke="#c4cccc" stroke-width="0.6" /><polygon points="648.9,396.4 670.2,409.3 670.2,420.3 648.9,407.4" fill="#19d2c9" /><polygon points="691.5,396.4 670.2,409.3 670.2,420.3 691.5,407.4" fill="#12bdb6" /><polygon points="670.2,383.4 691.5,396.4 670.2,409.3 648.9,396.4" fill="#27e6dc" /><polygon points="657.6,389.9 673.6,399.6 673.6,415.3 657.6,405.6" fill="#1cd9d0" /><polygon points="688.1,390.8 673.6,399.6 673.6,415.3 688.1,406.5" fill="#14c2ba" /><polygon points="672.2,381.1 688.1,390.8 673.6,399.6 657.6,389.9" fill="#2ff0e6" /><line x1="658.1" y1="414.7" x2="658.1" y2="398.7" stroke="#c4cccc" stroke-width="0.9" /><line x1="682.3" y1="414.8" x2="682.3" y2="398.8" stroke="#c4cccc" stroke-width="0.9" /><line x1="682.3" y1="384.0" x2="658.1" y2="398.7" stroke="#c4cccc" stroke-width="0.8" /><line x1="658.1" y1="384.0" x2="682.3" y2="398.8" stroke="#c4cccc" stroke-width="0.8" /><line x1="646.0" y1="399.4" x2="670.2" y2="414.1" stroke="#c4cccc" stroke-width="0.8" /><line x1="694.4" y1="399.4" x2="670.2" y2="414.1" stroke="#c4cccc" stroke-width="0.8" /><line x1="670.2" y1="422.1" x2="670.2" y2="406.1" stroke="#ffffff" stroke-width="1.1" /><polygon points="670.2,376.6 694.4,391.4 670.2,406.1 646.0,391.4" fill="none" stroke="#ffffff" stroke-width="1.1" stroke-linejoin="round" /><polygon points="670.2,376.6 694.4,391.4 694.4,407.4 670.2,422.1 646.0,407.4 646.0,391.4" fill="none" stroke="#ffffff" stroke-width="1.8" stroke-linejoin="round" /><rect x="38.1" y="42.8" width="47.5" height="47.1" fill="none" stroke="#a8a8a8" stroke-width="1.1"/><rect x="52.1" y="63.2" width="10.9" height="10.5" fill="#8fd43a"/><rect x="47" y="57" width="10.4" height="10.3" fill="#10f0f4"/><rect x="45.3" y="70.1" width="10.4" height="10.5" fill="#f810ee"/><path d="M52.7 58.7Q58 49.2 66.8 49.3Q72 49.5 75.8 52.7" fill="none" stroke="#808080" stroke-width="0.65"/><path d="M50.1 75Q56 82 62.6 81.4Q72.5 80 76.3 68.6" fill="none" stroke="#808080" stroke-width="0.65"/><circle cx="75.9" cy="52.9" r="0.7" fill="#aaa"/><circle cx="76.2" cy="68.7" r="0.7" fill="#aaa"/><rect x="102.2" y="618.3" width="60.4" height="4.8" rx="2.4" fill="#fb10f4"/><rect x="102.2" y="646.8" width="60.4" height="4.6" rx="2.3" fill="#8ecb3e"/><path d="M493 599.7H531M843.4 599.7H964M493 645.6H531M843.4 645.6H964" stroke="#bdbdbd" stroke-width="1" stroke-dasharray="1.2 2.1" fill="none"/><path d="M531.1 599.7H843.4" stroke="#8a8a8a" stroke-width="1.2" fill="none"/><path d="M531.1 603.7V612.7M531.1 629.7V642.6M635.0 603.7V612.7M635.0 629.7V642.6M739.2 603.7V612.7M739.2 629.7V642.6M843.4 603.7V612.7M843.4 629.7V642.6M947.3 602.7V642.6" stroke="#b4b4b4" stroke-width="0.9" stroke-dasharray="1.2 2.1" fill="none"/><polygon points="531.1,645.2 635,641.7 739.2,637.7 843.4,631.8 843.4,646.8 531.1,646.6" fill="#0df0f4"/><path d="M843.4 632L964.5 619.3" stroke="#12c8cc" stroke-width="1" stroke-dasharray="1.2 2.1" fill="none"/><path d="M961.8 615.6l4.2 3.6l-3.4 4.2" stroke="#12d8dc" stroke-width="1.1" fill="none"/><path d="M962 596.1l4 3.6l-4 3.6" stroke="#e0e0e0" stroke-width="1.1" fill="none"/><circle cx="947.3" cy="599.7" r="2.6" fill="#000" stroke="#c8c8c8" stroke-width="1"/><path d="M962 642.0l4 3.6l-4 3.6" stroke="#e0e0e0" stroke-width="1.1" fill="none"/><circle cx="947.3" cy="645.6" r="2.6" fill="#000" stroke="#c8c8c8" stroke-width="1"/><circle cx="531.1" cy="599.7" r="2.4" fill="#ffffff"/><circle cx="531.1" cy="645.6" r="2.5" fill="#0a1a1a" stroke="#10d8dc" stroke-width="1"/><circle cx="635.0" cy="599.7" r="2.4" fill="#ffffff"/><circle cx="635.0" cy="645.6" r="2.5" fill="#0a1a1a" stroke="#10d8dc" stroke-width="1"/><circle cx="739.2" cy="599.7" r="2.4" fill="#ffffff"/><circle cx="739.2" cy="645.6" r="2.5" fill="#0a1a1a" stroke="#10d8dc" stroke-width="1"/><circle cx="843.4" cy="599.7" r="2.4" fill="#ffffff"/><circle cx="843.4" cy="645.6" r="2.5" fill="#0a1a1a" stroke="#10d8dc" stroke-width="1"/><circle cx="635" cy="599.7" r="9.6" fill="none" stroke="#12c6cc" stroke-width="1.1"/><circle cx="635" cy="599.7" r="5.8" fill="none" stroke="#12c6cc" stroke-width="1.1"/><circle cx="635" cy="599.7" r="2.6" fill="#ffffff"/><path d="M946.5 675.9V700.9" stroke="#777" stroke-width="0.8"/></svg>
<div class="t " style="left:104.2px;top:56.5px;font-size:16.6px;font-weight:bold;letter-spacing:3.8px;color:#fff;-webkit-text-stroke:0.45px #fff;">REDISTRIBUTION</div>
<div class="t c" style="left:142.5px;top:134px;font-size:8.8px;color:#cfcfcf;">A</div>
<div class="t c" style="left:225px;top:134px;font-size:8.8px;color:#cfcfcf;">B</div>
<div class="t c" style="left:309.4px;top:134px;font-size:8.8px;color:#cfcfcf;">C</div>
<div class="t c" style="left:391.8px;top:134px;font-size:8.8px;color:#cfcfcf;">D</div>
<div class="t c" style="left:82.5px;top:187.5px;font-size:8.8px;color:#cfcfcf;">1</div>
<div class="t c" style="left:82.5px;top:274.5px;font-size:8.8px;color:#cfcfcf;">2</div>
<div class="t c" style="left:82.5px;top:358.5px;font-size:8.8px;color:#cfcfcf;">3</div>
<div class="t c" style="left:82.5px;top:445.8px;font-size:8.8px;color:#cfcfcf;">4</div>
<div class="t c" style="left:82.5px;top:531.5px;font-size:8.8px;color:#cfcfcf;">5</div>
<div class="t i" style="left:355.6px;top:97.6px;font-size:10.6px;color:#d6d6d6;transform:scaleX(0.85);transform-origin:left top;">ZONE 3</div>
<div class="t i" style="left:304.8px;top:112px;font-size:10.6px;color:#d6d6d6;transform:scaleX(0.85);transform-origin:left top;">ZONE 4</div>
<div class="t i" style="left:50.3px;top:463.6px;font-size:10.6px;color:#d6d6d6;transform:translate(-50%,-50%) rotate(-90deg) scaleX(0.855);">ZONE 4</div>
<div class="t i" style="left:57.6px;top:515.5px;font-size:10.6px;color:#d6d6d6;transform:translate(-50%,-50%) rotate(-90deg) scaleX(0.855);">ZONE 3</div>
<div class="t i" style="left:105.6px;top:602.9px;font-size:10.8px;color:#d8d8d8;transform:scaleX(0.84);transform-origin:left top;">BUILDINGS</div>
<div class="t i" style="left:104.3px;top:631.6px;font-size:10.8px;color:#d8d8d8;transform:scaleX(0.8);transform-origin:left top;">VEGETATION</div>
<div class="t " style="left:673.9px;top:116.1px;font-size:10.4px;color:#b4b4b4;letter-spacing:2.7px;transform:scaleX(0.9);transform-origin:left top;">CLUSTER</div>
<div class="t " style="left:740.2px;top:111.1px;font-size:16.2px;color:#c8c8c8;transform:scaleX(0.87);transform-origin:left top;">C4</div>
<div class="t " style="left:694.4px;top:136.7px;font-size:10.4px;color:#b4b4b4;letter-spacing:-0.1px;transform:scaleX(0.95);transform-origin:left top;">ZONE</div>
<div class="t " style="left:729.2px;top:131.5px;font-size:16.2px;color:#c8c8c8;transform:scaleX(0.92);transform-origin:left top;">3</div>
<div class="t c" style="left:529.4px;top:617.8px;font-size:8.3px;font-weight:bold;color:#f4f4f4;">2021</div>
<div class="t c" style="left:634px;top:617.8px;font-size:8.3px;font-weight:bold;color:#f4f4f4;">2050</div>
<div class="t c" style="left:739.2px;top:617.8px;font-size:8.3px;font-weight:bold;color:#f4f4f4;">2080</div>
<div class="t c" style="left:842.8px;top:617.8px;font-size:8.3px;font-weight:bold;color:#f4f4f4;">2100</div>
<div class="t " style="left:493.6px;top:655.3px;font-size:8.3px;font-weight:bold;color:#f4f4f4;transform:scaleX(0.92);transform-origin:left top;">SLR</div>
<div class="t c" style="left:634px;top:654.3px;font-size:8.3px;font-weight:bold;color:#f4f4f4;">+ 0.95 m</div>
<div class="t c" style="left:737.6px;top:654.3px;font-size:8.3px;font-weight:bold;color:#f4f4f4;">+ 1.70 m</div>
<div class="t c" style="left:841.4px;top:654.3px;font-size:8.3px;font-weight:bold;color:#f4f4f4;">+ 2.40 m</div>
<div class="t i" style="left:495.6px;top:688.6px;font-size:10.1px;color:#6f6f6f;transform:scaleX(0.957);transform-origin:left top;">circular as an island // Aqeel Sourjah, Elena Petruzzi, Laukik Lad, Matvey Genne</div>
<div class="t " style="left:859.4px;top:672.7px;font-size:33.0px;font-family:'DejaVu Serif','Liberation Serif',serif;font-weight:bold;color:#8a8a8a;-webkit-text-stroke:0.55px #8a8a8a;transform:scaleX(1.33);transform-origin:left top;">I</div>
<div class="t " style="left:879.6px;top:673.0px;font-size:19.0px;font-family:'DejaVu Serif','Liberation Serif',serif;font-weight:bold;color:#8a8a8a;-webkit-text-stroke:0.55px #8a8a8a;transform:scaleX(1.42);transform-origin:left top;">a</div>
<div class="t " style="left:898.8px;top:669.9px;font-size:28.0px;font-family:'DejaVu Serif','Liberation Serif',serif;font-weight:bold;color:#8a8a8a;-webkit-text-stroke:0.55px #8a8a8a;transform:scaleX(1.5);transform-origin:left top;">a</div>
<div class="t " style="left:924.8px;top:671.6px;font-size:19.5px;font-family:'DejaVu Serif','Liberation Serif',serif;font-weight:bold;color:#8a8a8a;-webkit-text-stroke:0.55px #8a8a8a;transform:scaleX(1.36);transform-origin:left top;">c</div>
<div class="t " style="left:951.5px;top:675.3px;font-size:6.5px;color:#9c9c9c;letter-spacing:0.1px;-webkit-text-stroke:0.15px #9c9c9c;">Institute for</div>
<div class="t " style="left:951.5px;top:681.9px;font-size:6.5px;color:#9c9c9c;letter-spacing:0.1px;-webkit-text-stroke:0.15px #9c9c9c;">advanced</div>
<div class="t " style="left:951.5px;top:688.5px;font-size:6.5px;color:#9c9c9c;letter-spacing:0.1px;-webkit-text-stroke:0.15px #9c9c9c;">architecture</div>
<div class="t " style="left:951.5px;top:695.0999999999999px;font-size:6.5px;color:#9c9c9c;letter-spacing:0.1px;-webkit-text-stroke:0.15px #9c9c9c;">of Catalonia</div>
</body></html>
